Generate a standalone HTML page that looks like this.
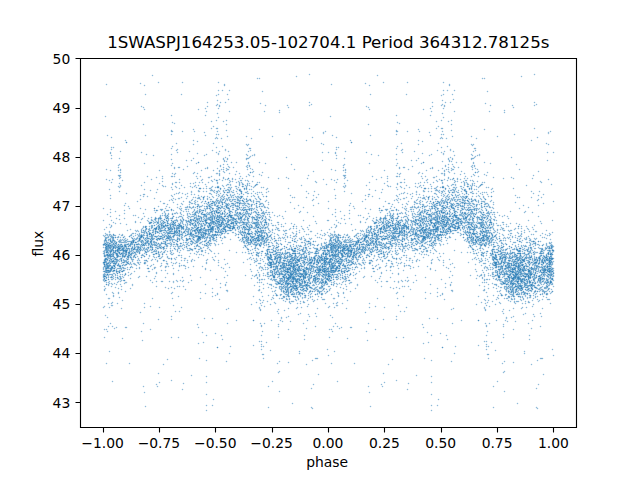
<!DOCTYPE html><html><head><meta charset="utf-8"><title>plot</title><style>html,body{margin:0;padding:0;background:#fff;overflow:hidden}svg{display:block}</style></head><body><svg width="640" height="480" viewBox="0 0 640 480"><rect width="640" height="480" fill="#fff"/><g transform="translate(0.5 0.5)"><g id="pts" stroke="#1f77b4" stroke-opacity="0.5" stroke-width="1.5" stroke-linecap="round" fill="none"><path d="M407 82h0M443 82h0M449 85h0M447 90h0M442 100h0M450 102h0M441 105h0M443 108h0M430 115h0M419 131h0M550 131h0M429 132h0M441 134h0M443 134h0M476 138h0M422 141h0M351 142h0M336 147h0M335 153h0M378 155h0M454 155h0M477 155h0M474 157h0M511 157h0M418 158h0M452 159h0M449 160h0M442 161h0M490 163h0M412 166h0M343 167h0M519 169h0M384 170h0M487 172h0M418 173h0M444 173h0M344 175h0M474 175h0M486 175h0M465 176h0M448 177h0M493 177h0M439 179h0M460 179h0M441 180h0M442 180h0M404 182h0M418 183h0M467 183h0M472 183h0M397 184h0M430 184h0M452 184h0M551 184h0M366 185h0M387 185h0M464 185h0M470 185h0M437 186h0M460 186h0M436 187h0M442 187h0M488 187h0M404 188h0M424 188h0M434 188h0M455 189h0M471 189h0M491 189h0M439 190h0M448 190h0M454 190h0M464 190h0M444 191h0M466 191h0M449 192h0M458 192h0M403 193h0M441 193h0M445 193h0M472 193h0M476 193h0M416 194h0M448 194h0M482 194h0M372 196h0M397 196h0M412 196h0M437 196h0M460 196h0M467 196h0M491 196h0M434 197h0M464 197h0M466 197h0M517 197h0M335 198h0M379 198h0M403 198h0M404 198h0M428 198h0M432 199h0M435 199h0M445 199h0M462 199h0M397 200h0M450 200h0M472 200h0M408 201h0M422 201h0M430 201h0M442 201h0M471 201h0M472 201h0M478 201h0M426 202h0M433 202h0M438 202h0M439 202h0M441 202h0M443 202h0M389 203h0M431 203h0M433 203h0M439 203h0M439 203h0M444 203h0M460 203h0M481 203h0M485 203h0M422 204h0M440 204h0M447 204h0M447 204h0M454 204h0M474 204h0M493 204h0M433 205h0M462 205h0M476 205h0M481 205h0M538 205h0M391 206h0M412 206h0M418 206h0M422 206h0M442 206h0M455 206h0M462 206h0M486 206h0M436 207h0M444 207h0M451 207h0M466 207h0M404 208h0M429 208h0M434 208h0M441 208h0M445 208h0M454 208h0M461 208h0M474 208h0M475 208h0M519 208h0M385 209h0M387 209h0M405 209h0M410 209h0M463 209h0M463 209h0M467 209h0M469 209h0M469 209h0M478 209h0M391 210h0M406 210h0M422 210h0M428 210h0M446 210h0M418 211h0M422 211h0M455 211h0M472 211h0M401 212h0M441 212h0M443 212h0M457 212h0M464 212h0M480 212h0M497 212h0M390 213h0M420 213h0M431 213h0M431 213h0M437 213h0M447 213h0M461 213h0M465 213h0M471 213h0M474 213h0M481 213h0M488 213h0M397 214h0M427 214h0M429 214h0M432 214h0M446 214h0M463 214h0M469 214h0M471 214h0M483 214h0M358 215h0M431 215h0M485 215h0M487 215h0M504 215h0M393 216h0M416 216h0M442 216h0M449 216h0M449 216h0M474 216h0M477 216h0M502 216h0M380 217h0M407 217h0M412 217h0M415 217h0M437 217h0M444 217h0M445 217h0M446 217h0M456 217h0M456 217h0M466 217h0M466 217h0M476 217h0M479 217h0M481 217h0M483 217h0M483 217h0M484 217h0M373 218h0M385 218h0M396 218h0M397 218h0M423 218h0M424 218h0M426 218h0M426 218h0M433 218h0M459 218h0M473 218h0M482 218h0M487 218h0M508 218h0M385 219h0M417 219h0M418 219h0M423 219h0M423 219h0M424 219h0M428 219h0M439 219h0M443 219h0M447 219h0M449 219h0M453 219h0M328 220h0M372 220h0M376 220h0M401 220h0M415 220h0M422 220h0M435 220h0M441 220h0M444 220h0M450 220h0M458 220h0M458 220h0M481 220h0M388 221h0M397 221h0M398 221h0M398 221h0M402 221h0M425 221h0M438 221h0M443 221h0M467 221h0M473 221h0M490 221h0M380 222h0M392 222h0M398 222h0M415 222h0M431 222h0M438 222h0M442 222h0M448 222h0M452 222h0M457 222h0M460 222h0M469 222h0M490 222h0M345 223h0M386 223h0M393 223h0M403 223h0M403 223h0M412 223h0M416 223h0M418 223h0M424 223h0M431 223h0M446 223h0M456 223h0M480 223h0M493 223h0M510 223h0M541 223h0M381 224h0M384 224h0M385 224h0M390 224h0M429 224h0M434 224h0M443 224h0M453 224h0M467 224h0M489 224h0M336 225h0M390 225h0M391 225h0M392 225h0M393 225h0M400 225h0M402 225h0M418 225h0M432 225h0M435 225h0M441 225h0M442 225h0M443 225h0M446 225h0M451 225h0M462 225h0M474 225h0M481 225h0M481 225h0M368 226h0M370 226h0M374 226h0M376 226h0M377 226h0M391 226h0M408 226h0M445 226h0M445 226h0M446 226h0M452 226h0M455 226h0M469 226h0M472 226h0M492 226h0M521 226h0M384 227h0M392 227h0M396 227h0M442 227h0M452 227h0M455 227h0M458 227h0M459 227h0M464 227h0M479 227h0M483 227h0M490 227h0M491 227h0M492 227h0M371 228h0M376 228h0M380 228h0M384 228h0M417 228h0M421 228h0M422 228h0M422 228h0M435 228h0M436 228h0M438 228h0M447 228h0M449 228h0M457 228h0M458 228h0M479 228h0M411 229h0M412 229h0M413 229h0M421 229h0M424 229h0M425 229h0M437 229h0M442 229h0M446 229h0M471 229h0M472 229h0M482 229h0M497 229h0M352 230h0M366 230h0M375 230h0M378 230h0M385 230h0M390 230h0M396 230h0M396 230h0M419 230h0M428 230h0M431 230h0M431 230h0M443 230h0M455 230h0M488 230h0M490 230h0M504 230h0M504 230h0M361 231h0M373 231h0M380 231h0M391 231h0M394 231h0M399 231h0M404 231h0M413 231h0M425 231h0M440 231h0M440 231h0M440 231h0M441 231h0M445 231h0M446 231h0M448 231h0M473 231h0M483 231h0M368 232h0M374 232h0M383 232h0M406 232h0M408 232h0M415 232h0M421 232h0M425 232h0M425 232h0M427 232h0M430 232h0M437 232h0M444 232h0M458 232h0M467 232h0M489 232h0M524 232h0M357 233h0M394 233h0M398 233h0M413 233h0M430 233h0M431 233h0M447 233h0M475 233h0M479 233h0M487 233h0M491 233h0M521 233h0M338 234h0M347 234h0M368 234h0M368 234h0M378 234h0M387 234h0M389 234h0M415 234h0M423 234h0M430 234h0M437 234h0M438 234h0M440 234h0M444 234h0M469 234h0M471 234h0M474 234h0M484 234h0M496 234h0M502 234h0M339 235h0M366 235h0M369 235h0M372 235h0M402 235h0M411 235h0M421 235h0M440 235h0M441 235h0M469 235h0M482 235h0M335 236h0M367 236h0M375 236h0M376 236h0M379 236h0M381 236h0M404 236h0M422 236h0M423 236h0M432 236h0M436 236h0M472 236h0M478 236h0M483 236h0M486 236h0M489 236h0M512 236h0M331 237h0M332 237h0M345 237h0M362 237h0M368 237h0M377 237h0M396 237h0M423 237h0M423 237h0M424 237h0M425 237h0M438 237h0M441 237h0M468 237h0M470 237h0M471 237h0M476 237h0M491 237h0M491 237h0M492 237h0M515 237h0M544 237h0M337 238h0M364 238h0M374 238h0M378 238h0M392 238h0M393 238h0M424 238h0M424 238h0M473 238h0M486 238h0M488 238h0M524 238h0M536 238h0M330 239h0M330 239h0M337 239h0M358 239h0M360 239h0M364 239h0M365 239h0M371 239h0M378 239h0M384 239h0M398 239h0M404 239h0M418 239h0M425 239h0M480 239h0M490 239h0M497 239h0M329 240h0M330 240h0M331 240h0M335 240h0M350 240h0M391 240h0M392 240h0M435 240h0M467 240h0M478 240h0M482 240h0M500 240h0M501 240h0M517 240h0M337 241h0M337 241h0M354 241h0M357 241h0M358 241h0M371 241h0M375 241h0M376 241h0M390 241h0M429 241h0M430 241h0M441 241h0M466 241h0M476 241h0M478 241h0M478 241h0M339 242h0M347 242h0M357 242h0M360 242h0M378 242h0M386 242h0M395 242h0M398 242h0M413 242h0M421 242h0M432 242h0M476 242h0M480 242h0M493 242h0M501 242h0M535 242h0M551 242h0M330 243h0M334 243h0M356 243h0M370 243h0M373 243h0M376 243h0M392 243h0M405 243h0M431 243h0M447 243h0M486 243h0M486 243h0M488 243h0M530 243h0M535 243h0M329 244h0M331 244h0M334 244h0M338 244h0M353 244h0M366 244h0M374 244h0M376 244h0M380 244h0M390 244h0M390 244h0M399 244h0M401 244h0M408 244h0M416 244h0M434 244h0M478 244h0M506 244h0M535 244h0M349 245h0M350 245h0M369 245h0M379 245h0M381 245h0M470 245h0M472 245h0M515 245h0M546 245h0M551 245h0M331 246h0M347 246h0M347 246h0M355 246h0M355 246h0M355 246h0M363 246h0M375 246h0M411 246h0M424 246h0M493 246h0M518 246h0M524 246h0M330 247h0M330 247h0M334 247h0M338 247h0M357 247h0M359 247h0M385 247h0M411 247h0M433 247h0M493 247h0M511 247h0M516 247h0M530 247h0M530 247h0M549 247h0M551 247h0M331 248h0M334 248h0M335 248h0M347 248h0M353 248h0M359 248h0M369 248h0M371 248h0M373 248h0M382 248h0M383 248h0M395 248h0M403 248h0M412 248h0M414 248h0M480 248h0M516 248h0M520 248h0M528 248h0M551 248h0M330 249h0M337 249h0M343 249h0M354 249h0M358 249h0M362 249h0M368 249h0M370 249h0M380 249h0M416 249h0M423 249h0M434 249h0M506 249h0M513 249h0M523 249h0M527 249h0M541 249h0M333 250h0M336 250h0M342 250h0M342 250h0M348 250h0M372 250h0M430 250h0M435 250h0M491 250h0M492 250h0M492 250h0M502 250h0M510 250h0M543 250h0M544 250h0M547 250h0M553 250h0M335 251h0M338 251h0M340 251h0M348 251h0M355 251h0M356 251h0M383 251h0M383 251h0M389 251h0M402 251h0M436 251h0M492 251h0M522 251h0M528 251h0M541 251h0M344 252h0M351 252h0M354 252h0M359 252h0M362 252h0M371 252h0M494 252h0M497 252h0M497 252h0M502 252h0M512 252h0M533 252h0M333 253h0M335 253h0M344 253h0M344 253h0M346 253h0M353 253h0M354 253h0M356 253h0M358 253h0M380 253h0M381 253h0M381 253h0M439 253h0M476 253h0M490 253h0M492 253h0M500 253h0M507 253h0M512 253h0M518 253h0M520 253h0M541 253h0M543 253h0M551 253h0M334 254h0M336 254h0M355 254h0M367 254h0M371 254h0M426 254h0M498 254h0M510 254h0M548 254h0M550 254h0M329 255h0M335 255h0M338 255h0M341 255h0M406 255h0M502 255h0M517 255h0M330 256h0M338 256h0M342 256h0M352 256h0M369 256h0M387 256h0M387 256h0M387 256h0M495 256h0M500 256h0M515 256h0M529 256h0M529 256h0M550 256h0M386 257h0M392 257h0M492 257h0M500 257h0M512 257h0M517 257h0M522 257h0M525 257h0M545 257h0M546 257h0M549 257h0M335 258h0M363 258h0M385 258h0M495 258h0M505 258h0M525 258h0M525 258h0M526 258h0M539 258h0M547 258h0M547 258h0M551 258h0M330 259h0M332 259h0M336 259h0M341 259h0M358 259h0M363 259h0M432 259h0M449 259h0M499 259h0M500 259h0M524 259h0M540 259h0M542 259h0M546 259h0M552 259h0M329 260h0M336 260h0M343 260h0M346 260h0M348 260h0M409 260h0M439 260h0M479 260h0M493 260h0M502 260h0M510 260h0M512 260h0M514 260h0M539 260h0M542 260h0M544 260h0M550 260h0M337 261h0M339 261h0M494 261h0M501 261h0M502 261h0M514 261h0M528 261h0M529 261h0M542 261h0M551 261h0M329 262h0M331 262h0M352 262h0M479 262h0M494 262h0M495 262h0M496 262h0M498 262h0M505 262h0M505 262h0M506 262h0M521 262h0M522 262h0M527 262h0M536 262h0M543 262h0M545 262h0M333 263h0M338 263h0M339 263h0M346 263h0M353 263h0M400 263h0M484 263h0M495 263h0M498 263h0M501 263h0M504 263h0M509 263h0M511 263h0M511 263h0M515 263h0M528 263h0M530 263h0M538 263h0M547 263h0M329 264h0M364 264h0M475 264h0M496 264h0M499 264h0M509 264h0M511 264h0M514 264h0M518 264h0M518 264h0M526 264h0M529 264h0M532 264h0M548 264h0M329 265h0M330 265h0M330 265h0M332 265h0M334 265h0M335 265h0M344 265h0M345 265h0M349 265h0M409 265h0M443 265h0M494 265h0M494 265h0M496 265h0M505 265h0M509 265h0M513 265h0M515 265h0M516 265h0M520 265h0M526 265h0M532 265h0M330 266h0M334 266h0M336 266h0M337 266h0M339 266h0M356 266h0M404 266h0M410 266h0M508 266h0M515 266h0M526 266h0M527 266h0M537 266h0M538 266h0M539 266h0M545 266h0M547 266h0M331 267h0M332 267h0M333 267h0M352 267h0M355 267h0M390 267h0M413 267h0M484 267h0M490 267h0M500 267h0M501 267h0M506 267h0M507 267h0M508 267h0M513 267h0M517 267h0M518 267h0M523 267h0M531 267h0M331 268h0M336 268h0M337 268h0M339 268h0M373 268h0M379 268h0M484 268h0M501 268h0M505 268h0M508 268h0M512 268h0M520 268h0M523 268h0M524 268h0M535 268h0M543 268h0M549 268h0M328 269h0M335 269h0M335 269h0M336 269h0M346 269h0M475 269h0M511 269h0M514 269h0M514 269h0M518 269h0M522 269h0M525 269h0M535 269h0M544 269h0M332 270h0M338 270h0M344 270h0M348 270h0M386 270h0M499 270h0M519 270h0M522 270h0M525 270h0M528 270h0M529 270h0M533 270h0M540 270h0M542 270h0M545 270h0M547 270h0M329 271h0M343 271h0M347 271h0M497 271h0M501 271h0M505 271h0M512 271h0M516 271h0M518 271h0M528 271h0M536 271h0M549 271h0M551 271h0M331 272h0M332 272h0M333 272h0M344 272h0M496 272h0M509 272h0M512 272h0M518 272h0M520 272h0M528 272h0M530 272h0M543 272h0M544 272h0M544 272h0M545 272h0M350 273h0M381 273h0M392 273h0M497 273h0M497 273h0M499 273h0M505 273h0M524 273h0M535 273h0M544 273h0M553 273h0M329 274h0M332 274h0M340 274h0M502 274h0M505 274h0M506 274h0M509 274h0M513 274h0M516 274h0M516 274h0M517 274h0M531 274h0M331 275h0M333 275h0M337 275h0M349 275h0M415 275h0M452 275h0M481 275h0M498 275h0M499 275h0M513 275h0M513 275h0M516 275h0M526 275h0M528 275h0M530 275h0M329 276h0M333 276h0M333 276h0M498 276h0M507 276h0M508 276h0M528 276h0M539 276h0M542 276h0M544 276h0M552 276h0M390 277h0M425 277h0M482 277h0M499 277h0M513 277h0M518 277h0M540 277h0M548 277h0M345 278h0M345 278h0M379 278h0M512 278h0M512 278h0M512 278h0M517 278h0M523 278h0M528 278h0M535 278h0M535 278h0M539 278h0M542 278h0M552 278h0M336 279h0M487 279h0M500 279h0M513 279h0M517 279h0M518 279h0M522 279h0M528 279h0M540 279h0M541 279h0M552 279h0M330 280h0M346 280h0M348 280h0M500 280h0M508 280h0M511 280h0M521 280h0M529 280h0M540 280h0M345 281h0M402 281h0M500 281h0M501 281h0M507 281h0M511 281h0M516 281h0M518 281h0M550 281h0M342 282h0M508 282h0M524 282h0M529 282h0M529 282h0M540 282h0M541 282h0M545 282h0M545 282h0M547 282h0M548 282h0M550 282h0M503 283h0M504 283h0M505 283h0M512 283h0M515 283h0M520 283h0M534 283h0M549 283h0M331 284h0M502 284h0M506 284h0M513 284h0M525 284h0M531 284h0M543 284h0M551 284h0M479 285h0M509 285h0M525 285h0M528 285h0M532 285h0M533 285h0M537 285h0M538 285h0M546 285h0M548 285h0M506 286h0M511 286h0M515 286h0M519 286h0M520 286h0M521 286h0M547 286h0M506 287h0M514 287h0M521 287h0M545 287h0M330 288h0M343 288h0M504 288h0M508 288h0M512 288h0M512 288h0M520 288h0M522 288h0M544 288h0M510 289h0M528 289h0M532 289h0M541 289h0M329 290h0M483 290h0M484 290h0M511 290h0M516 290h0M518 290h0M509 291h0M511 291h0M523 291h0M528 291h0M534 291h0M539 291h0M542 291h0M545 291h0M511 292h0M513 292h0M522 292h0M525 292h0M343 293h0M513 293h0M524 293h0M525 293h0M501 294h0M517 294h0M546 294h0M512 295h0M508 296h0M509 296h0M518 296h0M535 296h0M522 297h0M527 297h0M425 298h0M507 298h0M527 298h0M511 299h0M514 299h0M485 300h0M508 300h0M510 301h0M514 301h0M516 301h0M528 301h0M538 301h0M485 303h0M336 305h0M337 305h0M513 308h0M525 313h0M330 315h0M534 316h0M541 316h0M332 317h0M429 318h0M461 320h0M496 320h0M515 321h0M485 323h0M503 324h0M350 327h0M423 327h0M487 331h0M396 337h0M447 339h0M442 347h0M524 351h0M488 354h0M331 363h0M502 363h0M543 374h0M337 381h0M437 405h0M536 407h0"/><path d="M454 90h0M432 106h0M423 109h0M489 111h0M451 120h0M399 123h0M368 124h0M442 128h0M484 129h0M396 130h0M442 131h0M452 136h0M350 140h0M418 140h0M473 151h0M366 152h0M441 152h0M553 152h0M443 153h0M371 154h0M443 154h0M471 154h0M344 158h0M473 158h0M471 159h0M449 161h0M461 162h0M344 164h0M516 164h0M445 165h0M399 167h0M403 167h0M432 167h0M454 167h0M458 167h0M472 167h0M430 168h0M331 169h0M451 170h0M538 171h0M419 172h0M441 173h0M442 173h0M444 175h0M344 176h0M396 176h0M381 177h0M511 177h0M331 179h0M404 179h0M427 179h0M444 179h0M450 179h0M465 180h0M470 180h0M437 181h0M484 182h0M406 185h0M420 185h0M451 185h0M472 185h0M415 186h0M467 186h0M471 186h0M401 187h0M443 187h0M428 188h0M431 188h0M397 189h0M469 189h0M437 190h0M450 190h0M442 191h0M454 191h0M465 191h0M472 191h0M404 192h0M453 192h0M454 192h0M351 193h0M412 193h0M399 194h0M396 195h0M423 195h0M515 195h0M368 196h0M432 196h0M420 197h0M423 197h0M424 197h0M428 197h0M438 197h0M453 197h0M466 197h0M398 198h0M411 198h0M423 198h0M365 199h0M436 199h0M452 199h0M459 199h0M471 199h0M474 199h0M485 199h0M394 200h0M420 200h0M441 200h0M463 200h0M467 200h0M478 200h0M414 201h0M468 201h0M471 201h0M481 201h0M482 201h0M484 201h0M398 202h0M420 202h0M433 202h0M446 202h0M465 202h0M478 202h0M484 202h0M406 203h0M437 203h0M441 203h0M450 203h0M451 203h0M458 203h0M465 203h0M470 203h0M420 204h0M432 204h0M452 204h0M476 204h0M434 205h0M442 205h0M450 205h0M451 205h0M453 205h0M456 205h0M457 205h0M476 205h0M488 205h0M426 206h0M431 206h0M441 206h0M446 206h0M451 206h0M487 206h0M411 207h0M412 207h0M414 207h0M418 207h0M443 207h0M473 207h0M482 207h0M489 207h0M528 207h0M365 208h0M379 208h0M449 208h0M370 209h0M411 209h0M413 209h0M443 209h0M458 209h0M465 209h0M470 209h0M471 209h0M474 209h0M349 210h0M381 210h0M386 210h0M396 210h0M428 210h0M430 210h0M444 210h0M454 210h0M460 210h0M468 210h0M340 211h0M411 211h0M413 211h0M430 211h0M436 211h0M439 211h0M456 211h0M480 211h0M427 212h0M439 212h0M439 212h0M441 212h0M450 212h0M460 212h0M462 212h0M465 212h0M481 212h0M494 212h0M368 213h0M397 213h0M419 213h0M390 214h0M393 214h0M397 214h0M397 214h0M415 214h0M449 214h0M454 214h0M389 215h0M423 215h0M435 215h0M438 215h0M442 215h0M442 215h0M454 215h0M455 215h0M457 215h0M464 215h0M467 215h0M470 215h0M488 215h0M369 216h0M385 216h0M398 216h0M405 216h0M430 216h0M431 216h0M435 216h0M442 216h0M446 216h0M450 216h0M455 216h0M463 216h0M465 216h0M467 216h0M474 216h0M486 216h0M490 216h0M494 216h0M363 217h0M403 217h0M419 217h0M428 217h0M439 217h0M441 217h0M453 217h0M458 217h0M465 217h0M466 217h0M470 217h0M484 217h0M341 218h0M391 218h0M395 218h0M422 218h0M429 218h0M431 218h0M432 218h0M448 218h0M458 218h0M463 218h0M491 218h0M344 219h0M366 219h0M389 219h0M415 219h0M422 219h0M431 219h0M432 219h0M432 219h0M435 219h0M442 219h0M455 219h0M456 219h0M460 219h0M472 219h0M481 219h0M482 219h0M493 219h0M377 220h0M387 220h0M391 220h0M396 220h0M408 220h0M411 220h0M416 220h0M418 220h0M419 220h0M420 220h0M429 220h0M435 220h0M466 220h0M483 220h0M488 220h0M385 221h0M398 221h0M407 221h0M414 221h0M430 221h0M438 221h0M447 221h0M453 221h0M462 221h0M360 222h0M374 222h0M376 222h0M382 222h0M385 222h0M398 222h0M432 222h0M435 222h0M437 222h0M446 222h0M453 222h0M453 222h0M458 222h0M464 222h0M468 222h0M470 222h0M471 222h0M476 222h0M478 222h0M482 222h0M490 222h0M491 222h0M375 223h0M399 223h0M399 223h0M417 223h0M456 223h0M457 223h0M458 223h0M479 223h0M486 223h0M398 224h0M404 224h0M404 224h0M408 224h0M417 224h0M420 224h0M425 224h0M426 224h0M438 224h0M438 224h0M447 224h0M454 224h0M461 224h0M470 224h0M470 224h0M471 224h0M475 224h0M480 224h0M483 224h0M503 224h0M506 224h0M383 225h0M386 225h0M388 225h0M395 225h0M399 225h0M403 225h0M406 225h0M420 225h0M427 225h0M434 225h0M435 225h0M446 225h0M449 225h0M459 225h0M460 225h0M482 225h0M484 225h0M336 226h0M371 226h0M388 226h0M389 226h0M395 226h0M395 226h0M398 226h0M405 226h0M425 226h0M426 226h0M437 226h0M439 226h0M445 226h0M468 226h0M472 226h0M506 226h0M368 227h0M370 227h0M383 227h0M387 227h0M389 227h0M394 227h0M406 227h0M408 227h0M416 227h0M429 227h0M433 227h0M437 227h0M443 227h0M453 227h0M469 227h0M470 227h0M474 227h0M476 227h0M483 227h0M487 227h0M379 228h0M379 228h0M381 228h0M383 228h0M387 228h0M393 228h0M399 228h0M402 228h0M408 228h0M422 228h0M426 228h0M436 228h0M437 228h0M448 228h0M457 228h0M462 228h0M485 228h0M493 228h0M373 229h0M393 229h0M394 229h0M397 229h0M423 229h0M426 229h0M431 229h0M433 229h0M435 229h0M450 229h0M457 229h0M460 229h0M469 229h0M470 229h0M472 229h0M482 229h0M500 229h0M370 230h0M386 230h0M386 230h0M401 230h0M401 230h0M403 230h0M404 230h0M417 230h0M420 230h0M424 230h0M430 230h0M443 230h0M469 230h0M482 230h0M503 230h0M508 230h0M524 230h0M373 231h0M380 231h0M385 231h0M386 231h0M395 231h0M401 231h0M412 231h0M433 231h0M436 231h0M440 231h0M443 231h0M448 231h0M467 231h0M469 231h0M476 231h0M382 232h0M393 232h0M400 232h0M402 232h0M409 232h0M412 232h0M413 232h0M433 232h0M445 232h0M446 232h0M469 232h0M481 232h0M490 232h0M358 233h0M396 233h0M397 233h0M397 233h0M401 233h0M416 233h0M421 233h0M434 233h0M460 233h0M470 233h0M470 233h0M472 233h0M474 233h0M482 233h0M486 233h0M486 233h0M499 233h0M549 233h0M334 234h0M366 234h0M374 234h0M400 234h0M406 234h0M412 234h0M416 234h0M426 234h0M440 234h0M442 234h0M473 234h0M477 234h0M480 234h0M484 234h0M508 234h0M508 234h0M531 234h0M340 235h0M356 235h0M356 235h0M368 235h0M376 235h0M377 235h0M393 235h0M395 235h0M404 235h0M407 235h0M415 235h0M422 235h0M426 235h0M428 235h0M433 235h0M434 235h0M439 235h0M445 235h0M460 235h0M483 235h0M486 235h0M495 235h0M515 235h0M549 235h0M329 236h0M366 236h0M397 236h0M398 236h0M406 236h0M409 236h0M418 236h0M428 236h0M495 236h0M521 236h0M337 237h0M348 237h0M372 237h0M376 237h0M387 237h0M389 237h0M402 237h0M406 237h0M423 237h0M427 237h0M435 237h0M441 237h0M445 237h0M445 237h0M449 237h0M471 237h0M473 237h0M486 237h0M487 237h0M357 238h0M359 238h0M364 238h0M372 238h0M373 238h0M376 238h0M382 238h0M383 238h0M385 238h0M393 238h0M396 238h0M411 238h0M414 238h0M424 238h0M429 238h0M434 238h0M479 238h0M484 238h0M505 238h0M517 238h0M534 238h0M335 239h0M335 239h0M342 239h0M347 239h0M361 239h0M364 239h0M377 239h0M388 239h0M396 239h0M407 239h0M412 239h0M413 239h0M425 239h0M455 239h0M475 239h0M485 239h0M487 239h0M338 240h0M339 240h0M348 240h0M358 240h0M367 240h0M400 240h0M411 240h0M419 240h0M421 240h0M422 240h0M440 240h0M446 240h0M473 240h0M475 240h0M480 240h0M482 240h0M484 240h0M489 240h0M505 240h0M530 240h0M340 241h0M344 241h0M352 241h0M355 241h0M358 241h0M366 241h0M375 241h0M388 241h0M389 241h0M402 241h0M416 241h0M421 241h0M468 241h0M471 241h0M476 241h0M483 241h0M489 241h0M491 241h0M499 241h0M333 242h0M341 242h0M348 242h0M348 242h0M356 242h0M370 242h0M375 242h0M376 242h0M381 242h0M390 242h0M399 242h0M399 242h0M408 242h0M410 242h0M421 242h0M433 242h0M473 242h0M474 242h0M494 242h0M515 242h0M529 242h0M330 243h0M334 243h0M338 243h0M340 243h0M340 243h0M355 243h0M363 243h0M367 243h0M376 243h0M386 243h0M388 243h0M393 243h0M396 243h0M405 243h0M431 243h0M434 243h0M471 243h0M482 243h0M483 243h0M502 243h0M550 243h0M329 244h0M343 244h0M346 244h0M346 244h0M352 244h0M359 244h0M362 244h0M368 244h0M373 244h0M385 244h0M391 244h0M479 244h0M484 244h0M488 244h0M512 244h0M530 244h0M330 245h0M333 245h0M345 245h0M347 245h0M354 245h0M355 245h0M365 245h0M402 245h0M407 245h0M421 245h0M422 245h0M431 245h0M481 245h0M485 245h0M501 245h0M523 245h0M523 245h0M539 245h0M550 245h0M552 245h0M333 246h0M335 246h0M336 246h0M343 246h0M344 246h0M346 246h0M347 246h0M350 246h0M359 246h0M365 246h0M366 246h0M402 246h0M405 246h0M406 246h0M503 246h0M521 246h0M328 247h0M332 247h0M334 247h0M334 247h0M338 247h0M342 247h0M344 247h0M346 247h0M346 247h0M362 247h0M385 247h0M388 247h0M501 247h0M528 247h0M331 248h0M340 248h0M343 248h0M344 248h0M348 248h0M353 248h0M353 248h0M354 248h0M356 248h0M357 248h0M362 248h0M365 248h0M385 248h0M389 248h0M391 248h0M415 248h0M419 248h0M420 248h0M420 248h0M500 248h0M507 248h0M519 248h0M519 248h0M545 248h0M546 248h0M549 248h0M550 248h0M331 249h0M332 249h0M347 249h0M358 249h0M359 249h0M375 249h0M377 249h0M408 249h0M483 249h0M492 249h0M496 249h0M501 249h0M505 249h0M506 249h0M517 249h0M526 249h0M531 249h0M338 250h0M343 250h0M345 250h0M347 250h0M349 250h0M349 250h0M350 250h0M351 250h0M362 250h0M475 250h0M498 250h0M518 250h0M527 250h0M530 250h0M548 250h0M552 250h0M331 251h0M331 251h0M335 251h0M351 251h0M361 251h0M362 251h0M363 251h0M370 251h0M378 251h0M380 251h0M381 251h0M386 251h0M486 251h0M500 251h0M500 251h0M518 251h0M519 251h0M331 252h0M339 252h0M343 252h0M343 252h0M344 252h0M350 252h0M357 252h0M360 252h0M389 252h0M430 252h0M461 252h0M470 252h0M492 252h0M504 252h0M524 252h0M533 252h0M329 253h0M350 253h0M351 253h0M381 253h0M415 253h0M490 253h0M492 253h0M507 253h0M514 253h0M517 253h0M520 253h0M523 253h0M524 253h0M524 253h0M540 253h0M542 253h0M542 253h0M548 253h0M338 254h0M351 254h0M379 254h0M384 254h0M387 254h0M396 254h0M499 254h0M504 254h0M506 254h0M506 254h0M515 254h0M526 254h0M528 254h0M550 254h0M330 255h0M332 255h0M334 255h0M342 255h0M350 255h0M353 255h0M367 255h0M374 255h0M477 255h0M481 255h0M491 255h0M495 255h0M496 255h0M516 255h0M520 255h0M541 255h0M334 256h0M337 256h0M342 256h0M344 256h0M347 256h0M350 256h0M353 256h0M359 256h0M369 256h0M374 256h0M383 256h0M414 256h0M440 256h0M492 256h0M510 256h0M531 256h0M544 256h0M546 256h0M547 256h0M352 257h0M353 257h0M360 257h0M496 257h0M500 257h0M502 257h0M505 257h0M516 257h0M516 257h0M518 257h0M529 257h0M536 257h0M539 257h0M549 257h0M330 258h0M338 258h0M338 258h0M346 258h0M353 258h0M356 258h0M373 258h0M481 258h0M494 258h0M501 258h0M506 258h0M510 258h0M516 258h0M519 258h0M529 258h0M534 258h0M550 258h0M553 258h0M329 259h0M330 259h0M331 259h0M331 259h0M335 259h0M339 259h0M339 259h0M353 259h0M357 259h0M396 259h0M438 259h0M481 259h0M487 259h0M493 259h0M495 259h0M496 259h0M496 259h0M504 259h0M505 259h0M512 259h0M519 259h0M522 259h0M524 259h0M529 259h0M329 260h0M334 260h0M342 260h0M349 260h0M357 260h0M431 260h0M509 260h0M523 260h0M527 260h0M532 260h0M547 260h0M548 260h0M550 260h0M329 261h0M334 261h0M337 261h0M338 261h0M341 261h0M344 261h0M346 261h0M416 261h0M488 261h0M497 261h0M497 261h0M514 261h0M524 261h0M539 261h0M328 262h0M337 262h0M341 262h0M348 262h0M355 262h0M369 262h0M501 262h0M503 262h0M528 262h0M529 262h0M531 262h0M531 262h0M535 262h0M536 262h0M539 262h0M543 262h0M550 262h0M335 263h0M386 263h0M485 263h0M492 263h0M496 263h0M499 263h0M500 263h0M504 263h0M508 263h0M511 263h0M516 263h0M518 263h0M520 263h0M520 263h0M525 263h0M536 263h0M538 263h0M539 263h0M539 263h0M546 263h0M549 263h0M329 264h0M356 264h0M360 264h0M450 264h0M495 264h0M500 264h0M508 264h0M519 264h0M529 264h0M533 264h0M541 264h0M550 264h0M333 265h0M339 265h0M342 265h0M343 265h0M343 265h0M347 265h0M481 265h0M495 265h0M511 265h0M512 265h0M513 265h0M518 265h0M522 265h0M332 266h0M344 266h0M344 266h0M385 266h0M498 266h0M501 266h0M509 266h0M510 266h0M516 266h0M517 266h0M519 266h0M520 266h0M520 266h0M527 266h0M528 266h0M541 266h0M541 266h0M549 266h0M330 267h0M337 267h0M348 267h0M446 267h0M518 267h0M524 267h0M534 267h0M540 267h0M542 267h0M544 267h0M331 268h0M372 268h0M500 268h0M515 268h0M522 268h0M531 268h0M548 268h0M549 268h0M550 268h0M488 269h0M492 269h0M498 269h0M500 269h0M504 269h0M512 269h0M512 269h0M512 269h0M513 269h0M514 269h0M518 269h0M521 269h0M522 269h0M528 269h0M533 269h0M533 269h0M544 269h0M333 270h0M334 270h0M341 270h0M345 270h0M390 270h0M509 270h0M519 270h0M329 271h0M329 271h0M334 271h0M335 271h0M342 271h0M346 271h0M508 271h0M510 271h0M511 271h0M520 271h0M529 271h0M537 271h0M548 271h0M548 271h0M550 271h0M550 271h0M552 271h0M331 272h0M331 272h0M334 272h0M381 272h0M504 272h0M506 272h0M512 272h0M513 272h0M514 272h0M514 272h0M519 272h0M535 272h0M546 272h0M550 272h0M550 272h0M339 273h0M488 273h0M504 273h0M506 273h0M507 273h0M520 273h0M520 273h0M521 273h0M525 273h0M530 273h0M535 273h0M542 273h0M550 273h0M553 273h0M330 274h0M337 274h0M345 274h0M484 274h0M492 274h0M497 274h0M500 274h0M507 274h0M508 274h0M510 274h0M513 274h0M516 274h0M517 274h0M520 274h0M524 274h0M526 274h0M526 274h0M526 274h0M531 274h0M534 274h0M541 274h0M543 274h0M545 274h0M328 275h0M488 275h0M520 275h0M522 275h0M536 275h0M540 275h0M541 275h0M329 276h0M336 276h0M338 276h0M345 276h0M492 276h0M515 276h0M516 276h0M519 276h0M520 276h0M521 276h0M523 276h0M527 276h0M536 276h0M547 276h0M547 276h0M328 277h0M336 277h0M342 277h0M348 277h0M363 277h0M509 277h0M511 277h0M513 277h0M514 277h0M516 277h0M518 277h0M518 277h0M525 277h0M528 277h0M529 277h0M550 277h0M338 278h0M342 278h0M343 278h0M506 278h0M507 278h0M509 278h0M513 278h0M517 278h0M519 278h0M519 278h0M520 278h0M522 278h0M522 278h0M524 278h0M530 278h0M533 278h0M534 278h0M542 278h0M552 278h0M333 279h0M344 279h0M345 279h0M486 279h0M498 279h0M509 279h0M516 279h0M518 279h0M520 279h0M522 279h0M551 279h0M416 280h0M513 280h0M520 280h0M524 280h0M543 280h0M329 281h0M334 281h0M381 281h0M387 281h0M394 281h0M505 281h0M517 281h0M521 281h0M540 281h0M543 281h0M331 282h0M484 282h0M486 282h0M503 282h0M511 282h0M517 282h0M530 282h0M550 282h0M336 283h0M349 283h0M492 283h0M503 283h0M510 283h0M512 283h0M525 283h0M527 283h0M331 284h0M337 284h0M430 284h0M488 284h0M507 284h0M508 284h0M513 284h0M516 284h0M518 284h0M524 284h0M526 284h0M532 284h0M549 284h0M552 284h0M450 285h0M517 285h0M518 285h0M521 285h0M525 285h0M529 285h0M531 285h0M539 285h0M549 285h0M498 286h0M505 286h0M510 286h0M512 286h0M516 286h0M520 286h0M524 286h0M528 286h0M532 286h0M340 287h0M504 287h0M507 287h0M512 287h0M512 287h0M513 287h0M513 287h0M514 287h0M518 287h0M525 287h0M527 287h0M547 287h0M399 288h0M488 288h0M519 288h0M529 288h0M531 288h0M531 288h0M536 288h0M549 288h0M329 289h0M410 289h0M512 289h0M512 289h0M512 289h0M515 289h0M516 289h0M522 289h0M527 289h0M500 290h0M515 290h0M515 290h0M512 291h0M512 291h0M535 291h0M546 291h0M549 291h0M552 291h0M337 292h0M343 292h0M425 292h0M437 292h0M515 292h0M524 292h0M524 292h0M544 292h0M338 293h0M396 293h0M509 293h0M521 293h0M529 293h0M331 294h0M512 294h0M513 294h0M519 294h0M524 294h0M535 294h0M338 295h0M440 295h0M498 295h0M518 296h0M509 297h0M520 297h0M520 297h0M529 297h0M530 297h0M498 298h0M514 298h0M484 299h0M499 302h0M528 302h0M500 303h0M525 303h0M550 303h0M495 304h0M398 305h0M375 306h0M526 307h0M451 309h0M404 311h0M533 314h0M383 319h0M396 319h0M368 323h0M422 324h0M486 325h0M329 329h0M503 334h0M367 340h0M455 346h0M486 346h0M442 347h0M495 350h0M454 353h0M541 358h0M537 360h0M431 376h0M381 384h0M538 384h0M517 403h0"/><path d="M484 78h0M383 82h0M331 84h0M487 91h0M452 94h0M432 102h0M485 103h0M536 104h0M444 105h0M534 105h0M368 107h0M513 107h0M430 108h0M396 115h0M397 122h0M451 124h0M332 135h0M497 136h0M336 137h0M441 137h0M446 138h0M531 140h0M401 143h0M471 144h0M397 146h0M447 146h0M401 150h0M437 150h0M475 150h0M414 151h0M444 151h0M402 152h0M422 153h0M479 154h0M429 155h0M472 155h0M479 155h0M475 156h0M336 158h0M448 158h0M472 158h0M411 160h0M456 162h0M484 162h0M473 163h0M343 165h0M472 165h0M453 166h0M471 166h0M404 167h0M448 167h0M432 168h0M475 168h0M477 169h0M448 171h0M475 172h0M397 173h0M399 174h0M444 174h0M484 174h0M372 176h0M344 178h0M548 179h0M426 180h0M447 180h0M466 180h0M387 181h0M457 181h0M463 181h0M400 182h0M464 182h0M482 182h0M474 183h0M464 184h0M481 184h0M345 185h0M423 185h0M447 185h0M345 186h0M431 186h0M431 186h0M442 187h0M471 187h0M425 188h0M435 188h0M445 188h0M449 188h0M469 188h0M471 188h0M492 188h0M464 189h0M465 189h0M474 189h0M375 190h0M423 190h0M451 190h0M423 191h0M478 191h0M452 192h0M452 192h0M482 192h0M491 192h0M434 193h0M466 193h0M480 193h0M443 194h0M455 194h0M468 194h0M447 195h0M426 196h0M463 196h0M479 196h0M428 197h0M445 197h0M448 197h0M463 197h0M422 198h0M468 198h0M484 198h0M417 199h0M441 199h0M481 199h0M416 200h0M462 200h0M465 200h0M467 200h0M475 200h0M362 201h0M430 201h0M476 201h0M553 201h0M444 202h0M462 202h0M388 203h0M417 203h0M436 203h0M457 203h0M464 203h0M468 203h0M481 203h0M414 204h0M435 204h0M447 204h0M451 204h0M473 204h0M479 204h0M423 205h0M440 205h0M443 205h0M460 205h0M464 205h0M434 206h0M442 206h0M451 206h0M455 206h0M481 206h0M484 206h0M446 207h0M452 207h0M470 207h0M390 208h0M406 208h0M416 208h0M422 208h0M422 208h0M431 208h0M432 208h0M437 208h0M445 208h0M453 208h0M453 208h0M476 208h0M493 208h0M386 209h0M430 209h0M450 209h0M467 209h0M470 209h0M472 209h0M474 209h0M392 210h0M419 210h0M441 210h0M476 210h0M486 210h0M408 211h0M421 211h0M441 211h0M445 211h0M460 211h0M510 211h0M335 212h0M436 212h0M443 212h0M470 212h0M476 212h0M487 212h0M349 213h0M387 213h0M402 213h0M405 213h0M414 213h0M443 213h0M445 213h0M445 213h0M464 213h0M473 213h0M418 214h0M428 214h0M429 214h0M434 214h0M445 214h0M445 214h0M451 214h0M460 214h0M460 214h0M461 214h0M469 214h0M475 214h0M482 214h0M492 214h0M385 215h0M392 215h0M430 215h0M430 215h0M437 215h0M442 215h0M453 215h0M454 215h0M454 215h0M461 215h0M462 215h0M473 215h0M391 216h0M404 216h0M413 216h0M417 216h0M423 216h0M425 216h0M446 216h0M446 216h0M452 216h0M453 216h0M455 216h0M467 216h0M482 216h0M376 217h0M385 217h0M392 217h0M425 217h0M425 217h0M435 217h0M439 217h0M443 217h0M444 217h0M447 217h0M447 217h0M456 217h0M457 217h0M472 217h0M478 217h0M482 217h0M349 218h0M380 218h0M381 218h0M383 218h0M419 218h0M439 218h0M447 218h0M457 218h0M458 218h0M461 218h0M465 218h0M477 218h0M484 218h0M379 219h0M389 219h0M408 219h0M415 219h0M416 219h0M437 219h0M445 219h0M466 219h0M468 219h0M486 219h0M489 219h0M336 220h0M396 220h0M400 220h0M405 220h0M406 220h0M406 220h0M426 220h0M426 220h0M430 220h0M441 220h0M447 220h0M449 220h0M454 220h0M461 220h0M469 220h0M483 220h0M490 220h0M494 220h0M373 221h0M388 221h0M392 221h0M428 221h0M430 221h0M437 221h0M450 221h0M452 221h0M456 221h0M460 221h0M540 221h0M338 222h0M387 222h0M387 222h0M389 222h0M398 222h0M411 222h0M414 222h0M422 222h0M431 222h0M438 222h0M444 222h0M444 222h0M447 222h0M452 222h0M463 222h0M465 222h0M466 222h0M468 222h0M479 222h0M479 222h0M481 222h0M489 222h0M491 222h0M503 222h0M340 223h0M374 223h0M388 223h0M392 223h0M395 223h0M424 223h0M428 223h0M433 223h0M434 223h0M437 223h0M448 223h0M450 223h0M456 223h0M458 223h0M461 223h0M464 223h0M468 223h0M472 223h0M478 223h0M481 223h0M482 223h0M483 223h0M491 223h0M334 224h0M395 224h0M397 224h0M404 224h0M415 224h0M417 224h0M439 224h0M444 224h0M449 224h0M484 224h0M491 224h0M386 225h0M390 225h0M405 225h0M420 225h0M434 225h0M455 225h0M455 225h0M382 226h0M388 226h0M404 226h0M406 226h0M408 226h0M419 226h0M444 226h0M448 226h0M458 226h0M464 226h0M474 226h0M508 226h0M518 226h0M526 226h0M370 227h0M376 227h0M381 227h0M384 227h0M386 227h0M402 227h0M420 227h0M423 227h0M437 227h0M448 227h0M449 227h0M449 227h0M454 227h0M462 227h0M473 227h0M482 227h0M490 227h0M384 228h0M385 228h0M393 228h0M395 228h0M395 228h0M399 228h0M401 228h0M404 228h0M406 228h0M428 228h0M442 228h0M455 228h0M457 228h0M464 228h0M471 228h0M471 228h0M527 228h0M355 229h0M383 229h0M389 229h0M394 229h0M401 229h0M416 229h0M420 229h0M421 229h0M428 229h0M437 229h0M440 229h0M446 229h0M448 229h0M473 229h0M475 229h0M377 230h0M393 230h0M413 230h0M419 230h0M422 230h0M422 230h0M424 230h0M432 230h0M433 230h0M445 230h0M447 230h0M450 230h0M453 230h0M460 230h0M465 230h0M465 230h0M486 230h0M488 230h0M546 230h0M381 231h0M397 231h0M397 231h0M399 231h0M400 231h0M404 231h0M417 231h0M420 231h0M431 231h0M435 231h0M451 231h0M480 231h0M481 231h0M483 231h0M495 231h0M366 232h0M369 232h0M377 232h0M394 232h0M401 232h0M423 232h0M428 232h0M429 232h0M470 232h0M470 232h0M484 232h0M487 232h0M517 232h0M552 232h0M360 233h0M360 233h0M360 233h0M372 233h0M374 233h0M380 233h0M386 233h0M390 233h0M393 233h0M394 233h0M395 233h0M398 233h0M399 233h0M407 233h0M415 233h0M420 233h0M426 233h0M449 233h0M472 233h0M331 234h0M332 234h0M344 234h0M362 234h0M364 234h0M399 234h0M405 234h0M406 234h0M406 234h0M406 234h0M407 234h0M418 234h0M427 234h0M432 234h0M433 234h0M439 234h0M442 234h0M466 234h0M486 234h0M491 234h0M492 234h0M533 234h0M550 234h0M330 235h0M332 235h0M347 235h0M355 235h0M360 235h0M364 235h0M399 235h0M410 235h0M417 235h0M417 235h0M426 235h0M430 235h0M430 235h0M435 235h0M441 235h0M487 235h0M547 235h0M336 236h0M337 236h0M349 236h0M354 236h0M354 236h0M358 236h0M364 236h0M366 236h0M377 236h0M391 236h0M393 236h0M394 236h0M398 236h0M416 236h0M416 236h0M417 236h0M421 236h0M427 236h0M429 236h0M449 236h0M471 236h0M483 236h0M494 236h0M528 236h0M330 237h0M338 237h0M340 237h0M348 237h0M366 237h0M368 237h0M371 237h0M371 237h0M381 237h0M392 237h0M418 237h0M419 237h0M424 237h0M428 237h0M430 237h0M477 237h0M477 237h0M478 237h0M482 237h0M483 237h0M487 237h0M542 237h0M350 238h0M364 238h0M370 238h0M383 238h0M384 238h0M385 238h0M386 238h0M391 238h0M403 238h0M404 238h0M422 238h0M467 238h0M473 238h0M480 238h0M481 238h0M490 238h0M491 238h0M546 238h0M330 239h0M334 239h0M338 239h0M345 239h0M375 239h0M394 239h0M395 239h0M402 239h0M404 239h0M411 239h0M412 239h0M418 239h0M423 239h0M438 239h0M441 239h0M467 239h0M471 239h0M483 239h0M492 239h0M492 239h0M510 239h0M525 239h0M550 239h0M345 240h0M346 240h0M358 240h0M372 240h0M376 240h0M382 240h0M401 240h0M404 240h0M416 240h0M424 240h0M430 240h0M434 240h0M438 240h0M439 240h0M475 240h0M477 240h0M483 240h0M484 240h0M491 240h0M329 241h0M335 241h0M356 241h0M372 241h0M397 241h0M402 241h0M416 241h0M420 241h0M422 241h0M423 241h0M427 241h0M429 241h0M433 241h0M519 241h0M533 241h0M538 241h0M329 242h0M332 242h0M332 242h0M337 242h0M351 242h0M360 242h0M380 242h0M418 242h0M418 242h0M425 242h0M433 242h0M469 242h0M480 242h0M481 242h0M490 242h0M329 243h0M335 243h0M341 243h0M341 243h0M383 243h0M387 243h0M390 243h0M401 243h0M419 243h0M420 243h0M425 243h0M435 243h0M469 243h0M549 243h0M331 244h0M331 244h0M343 244h0M355 244h0M359 244h0M361 244h0M362 244h0M366 244h0M382 244h0M411 244h0M432 244h0M474 244h0M480 244h0M482 244h0M486 244h0M491 244h0M493 244h0M503 244h0M518 244h0M532 244h0M537 244h0M546 244h0M333 245h0M335 245h0M337 245h0M340 245h0M359 245h0M367 245h0M368 245h0M373 245h0M377 245h0M409 245h0M413 245h0M481 245h0M484 245h0M491 245h0M525 245h0M339 246h0M340 246h0M345 246h0M353 246h0M353 246h0M376 246h0M391 246h0M392 246h0M398 246h0M403 246h0M404 246h0M421 246h0M470 246h0M494 246h0M509 246h0M509 246h0M526 246h0M551 246h0M553 246h0M345 247h0M348 247h0M351 247h0M363 247h0M364 247h0M367 247h0M372 247h0M373 247h0M376 247h0M377 247h0M384 247h0M388 247h0M403 247h0M468 247h0M480 247h0M488 247h0M502 247h0M547 247h0M552 247h0M333 248h0M335 248h0M338 248h0M343 248h0M344 248h0M351 248h0M352 248h0M399 248h0M472 248h0M498 248h0M519 248h0M520 248h0M540 248h0M542 248h0M335 249h0M336 249h0M346 249h0M358 249h0M364 249h0M371 249h0M377 249h0M424 249h0M473 249h0M493 249h0M512 249h0M514 249h0M528 249h0M331 250h0M335 250h0M341 250h0M344 250h0M345 250h0M352 250h0M356 250h0M367 250h0M369 250h0M379 250h0M402 250h0M417 250h0M519 250h0M527 250h0M532 250h0M549 250h0M553 250h0M350 251h0M395 251h0M423 251h0M473 251h0M494 251h0M510 251h0M518 251h0M520 251h0M534 251h0M540 251h0M541 251h0M332 252h0M335 252h0M338 252h0M340 252h0M353 252h0M354 252h0M364 252h0M377 252h0M383 252h0M422 252h0M484 252h0M496 252h0M501 252h0M505 252h0M510 252h0M513 252h0M535 252h0M536 252h0M338 253h0M341 253h0M360 253h0M381 253h0M383 253h0M473 253h0M474 253h0M482 253h0M483 253h0M505 253h0M509 253h0M511 253h0M519 253h0M520 253h0M548 253h0M332 254h0M334 254h0M347 254h0M350 254h0M383 254h0M493 254h0M502 254h0M514 254h0M548 254h0M332 255h0M334 255h0M335 255h0M342 255h0M353 255h0M354 255h0M368 255h0M403 255h0M486 255h0M490 255h0M495 255h0M495 255h0M501 255h0M531 255h0M546 255h0M332 256h0M335 256h0M342 256h0M345 256h0M349 256h0M352 256h0M353 256h0M362 256h0M383 256h0M483 256h0M493 256h0M503 256h0M531 256h0M534 256h0M341 257h0M355 257h0M366 257h0M406 257h0M475 257h0M494 257h0M495 257h0M496 257h0M503 257h0M504 257h0M505 257h0M509 257h0M517 257h0M530 257h0M534 257h0M536 257h0M542 257h0M546 257h0M551 257h0M340 258h0M351 258h0M494 258h0M495 258h0M502 258h0M516 258h0M520 258h0M538 258h0M539 258h0M540 258h0M543 258h0M549 258h0M356 259h0M400 259h0M476 259h0M493 259h0M496 259h0M515 259h0M522 259h0M530 259h0M539 259h0M539 259h0M551 259h0M334 260h0M338 260h0M338 260h0M362 260h0M364 260h0M443 260h0M482 260h0M493 260h0M497 260h0M501 260h0M505 260h0M509 260h0M518 260h0M520 260h0M523 260h0M524 260h0M537 260h0M547 260h0M549 260h0M330 261h0M331 261h0M337 261h0M349 261h0M351 261h0M382 261h0M511 261h0M515 261h0M524 261h0M533 261h0M549 261h0M553 261h0M328 262h0M328 262h0M330 262h0M330 262h0M330 262h0M348 262h0M370 262h0M443 262h0M468 262h0M496 262h0M501 262h0M503 262h0M504 262h0M519 262h0M520 262h0M532 262h0M535 262h0M541 262h0M549 262h0M551 262h0M340 263h0M369 263h0M370 263h0M398 263h0M483 263h0M494 263h0M495 263h0M500 263h0M510 263h0M513 263h0M518 263h0M533 263h0M534 263h0M543 263h0M547 263h0M550 263h0M331 264h0M340 264h0M350 264h0M492 264h0M513 264h0M521 264h0M522 264h0M541 264h0M541 264h0M549 264h0M552 264h0M335 265h0M338 265h0M339 265h0M342 265h0M350 265h0M376 265h0M493 265h0M495 265h0M505 265h0M506 265h0M509 265h0M513 265h0M513 265h0M518 265h0M522 265h0M525 265h0M535 265h0M537 265h0M329 266h0M339 266h0M390 266h0M391 266h0M393 266h0M427 266h0M496 266h0M502 266h0M505 266h0M519 266h0M519 266h0M524 266h0M538 266h0M336 267h0M340 267h0M355 267h0M357 267h0M364 267h0M495 267h0M496 267h0M496 267h0M496 267h0M508 267h0M510 267h0M515 267h0M515 267h0M519 267h0M529 267h0M547 267h0M328 268h0M331 268h0M333 268h0M344 268h0M346 268h0M349 268h0M350 268h0M430 268h0M502 268h0M505 268h0M512 268h0M518 268h0M529 268h0M532 268h0M534 268h0M544 268h0M547 268h0M547 268h0M331 269h0M513 269h0M513 269h0M520 269h0M528 269h0M531 269h0M538 269h0M542 269h0M545 269h0M547 269h0M330 270h0M332 270h0M335 270h0M336 270h0M339 270h0M339 270h0M496 270h0M502 270h0M502 270h0M508 270h0M509 270h0M512 270h0M519 270h0M522 270h0M523 270h0M525 270h0M529 270h0M535 270h0M543 270h0M543 270h0M547 270h0M553 270h0M553 270h0M328 271h0M335 271h0M341 271h0M347 271h0M374 271h0M507 271h0M510 271h0M517 271h0M519 271h0M523 271h0M528 271h0M530 271h0M531 271h0M544 271h0M544 271h0M552 271h0M344 272h0M495 272h0M500 272h0M501 272h0M516 272h0M518 272h0M529 272h0M530 272h0M542 272h0M329 273h0M356 273h0M398 273h0M492 273h0M504 273h0M504 273h0M510 273h0M510 273h0M517 273h0M518 273h0M522 273h0M526 273h0M527 273h0M530 273h0M531 273h0M334 274h0M493 274h0M502 274h0M502 274h0M507 274h0M515 274h0M515 274h0M522 274h0M525 274h0M527 274h0M529 274h0M533 274h0M534 274h0M548 274h0M552 274h0M552 274h0M342 275h0M353 275h0M470 275h0M484 275h0M495 275h0M497 275h0M509 275h0M514 275h0M514 275h0M523 275h0M534 275h0M536 275h0M547 275h0M479 276h0M484 276h0M498 276h0M503 276h0M504 276h0M508 276h0M511 276h0M514 276h0M515 276h0M518 276h0M526 276h0M529 276h0M539 276h0M547 276h0M550 276h0M553 276h0M331 277h0M337 277h0M407 277h0M498 277h0M499 277h0M509 277h0M510 277h0M514 277h0M517 277h0M519 277h0M525 277h0M530 277h0M534 277h0M535 277h0M536 277h0M540 277h0M541 277h0M550 277h0M329 278h0M346 278h0M496 278h0M506 278h0M511 278h0M511 278h0M513 278h0M515 278h0M518 278h0M538 278h0M540 278h0M513 279h0M526 279h0M533 279h0M552 279h0M552 279h0M331 280h0M349 280h0M499 280h0M509 280h0M534 280h0M511 281h0M514 281h0M518 281h0M521 281h0M522 281h0M522 281h0M527 281h0M529 281h0M542 281h0M551 281h0M510 282h0M511 282h0M517 282h0M521 282h0M527 282h0M529 282h0M532 282h0M533 282h0M550 282h0M504 283h0M517 283h0M522 283h0M526 283h0M535 283h0M546 283h0M333 284h0M501 284h0M520 284h0M512 285h0M519 285h0M520 285h0M526 285h0M329 286h0M346 286h0M515 286h0M521 286h0M530 286h0M534 286h0M542 286h0M546 286h0M390 287h0M526 287h0M535 287h0M540 287h0M513 288h0M516 288h0M517 288h0M518 288h0M521 288h0M528 288h0M539 288h0M540 288h0M548 288h0M346 289h0M513 289h0M522 289h0M538 289h0M548 289h0M451 290h0M526 290h0M530 290h0M350 291h0M511 291h0M515 291h0M537 291h0M486 292h0M508 292h0M518 292h0M500 293h0M517 293h0M526 293h0M536 293h0M542 293h0M550 293h0M550 293h0M505 294h0M511 294h0M511 294h0M516 294h0M517 294h0M540 294h0M501 295h0M530 295h0M533 295h0M513 296h0M513 296h0M519 296h0M530 296h0M537 296h0M497 297h0M535 297h0M333 298h0M334 298h0M377 298h0M397 298h0M506 298h0M512 299h0M542 299h0M488 300h0M518 301h0M522 303h0M476 304h0M533 304h0M384 307h0M522 307h0M485 310h0M540 313h0M506 317h0M437 318h0M506 318h0M505 320h0M532 320h0M507 321h0M337 326h0M339 328h0M331 329h0M375 329h0M329 337h0M334 351h0M487 354h0M540 358h0M513 362h0M396 380h0M497 381h0M368 386h0M537 408h0M431 410h0"/><path d="M377 75h0M521 76h0M365 83h0M449 84h0M370 94h0M443 94h0M512 105h0M454 111h0M436 128h0M418 129h0M407 131h0M548 132h0M548 133h0M514 134h0M440 138h0M442 138h0M418 144h0M473 144h0M548 144h0M338 147h0M396 148h0M336 155h0M471 158h0M448 159h0M416 160h0M369 163h0M421 163h0M452 164h0M396 165h0M445 166h0M474 166h0M399 168h0M345 169h0M448 169h0M453 169h0M343 170h0M426 170h0M477 172h0M422 173h0M454 173h0M464 173h0M473 174h0M533 175h0M421 176h0M425 176h0M471 176h0M448 178h0M457 178h0M503 178h0M513 178h0M532 178h0M337 179h0M376 179h0M347 180h0M473 181h0M477 181h0M540 181h0M336 182h0M401 182h0M420 182h0M424 182h0M461 182h0M541 182h0M464 183h0M453 184h0M481 184h0M482 184h0M388 186h0M442 186h0M448 186h0M461 186h0M476 186h0M344 187h0M396 187h0M421 187h0M443 187h0M454 187h0M454 187h0M478 187h0M486 187h0M424 188h0M425 188h0M455 188h0M469 188h0M471 188h0M513 188h0M334 189h0M369 189h0M436 189h0M445 189h0M462 189h0M458 190h0M464 190h0M428 191h0M441 191h0M448 191h0M466 191h0M531 191h0M439 192h0M442 192h0M449 192h0M471 192h0M486 192h0M533 193h0M368 194h0M419 194h0M451 194h0M487 194h0M452 195h0M455 195h0M443 196h0M456 196h0M476 196h0M491 196h0M458 197h0M519 197h0M541 197h0M432 198h0M446 198h0M462 198h0M465 198h0M396 199h0M447 199h0M448 199h0M463 199h0M475 199h0M447 200h0M454 200h0M464 200h0M467 200h0M491 200h0M537 200h0M385 201h0M460 201h0M415 202h0M433 202h0M447 202h0M449 202h0M461 202h0M463 202h0M469 202h0M350 203h0M436 203h0M443 203h0M453 203h0M466 203h0M467 203h0M469 203h0M472 203h0M481 203h0M486 203h0M452 204h0M452 204h0M458 204h0M459 204h0M485 204h0M488 204h0M349 205h0M436 205h0M439 205h0M445 205h0M445 205h0M460 205h0M470 205h0M405 206h0M422 206h0M434 206h0M460 206h0M463 206h0M489 206h0M417 207h0M424 207h0M435 207h0M447 207h0M457 207h0M469 207h0M481 207h0M328 208h0M434 208h0M438 208h0M419 209h0M424 209h0M382 210h0M398 210h0M426 210h0M435 210h0M440 210h0M461 210h0M469 210h0M474 210h0M476 210h0M424 211h0M441 211h0M449 211h0M471 211h0M479 211h0M444 212h0M454 212h0M462 212h0M472 212h0M483 212h0M490 212h0M423 213h0M426 213h0M439 213h0M447 213h0M449 213h0M464 213h0M465 213h0M470 213h0M476 213h0M486 213h0M332 214h0M412 214h0M428 214h0M430 214h0M437 214h0M440 214h0M447 214h0M468 214h0M390 215h0M392 215h0M412 215h0M429 215h0M440 215h0M444 215h0M450 215h0M455 215h0M499 215h0M390 216h0M428 216h0M429 216h0M431 216h0M436 216h0M440 216h0M444 216h0M449 216h0M452 216h0M456 216h0M470 216h0M474 216h0M538 216h0M384 217h0M431 217h0M433 217h0M434 217h0M455 217h0M490 217h0M495 217h0M367 218h0M385 218h0M392 218h0M397 218h0M413 218h0M441 218h0M444 218h0M448 218h0M451 218h0M458 218h0M465 218h0M479 218h0M487 218h0M380 219h0M443 219h0M443 219h0M448 219h0M448 219h0M453 219h0M460 219h0M463 219h0M464 219h0M480 219h0M383 220h0M410 220h0M413 220h0M418 220h0M431 220h0M436 220h0M437 220h0M437 220h0M440 220h0M453 220h0M465 220h0M472 220h0M528 220h0M406 221h0M412 221h0M413 221h0M413 221h0M413 221h0M416 221h0M420 221h0M423 221h0M427 221h0M436 221h0M439 221h0M439 221h0M442 221h0M443 221h0M460 221h0M465 221h0M487 221h0M375 222h0M382 222h0M400 222h0M405 222h0M422 222h0M440 222h0M444 222h0M446 222h0M447 222h0M462 222h0M467 222h0M485 222h0M378 223h0M428 223h0M433 223h0M436 223h0M441 223h0M443 223h0M451 223h0M471 223h0M516 223h0M394 224h0M398 224h0M400 224h0M404 224h0M410 224h0M420 224h0M441 224h0M443 224h0M445 224h0M448 224h0M452 224h0M453 224h0M468 224h0M482 224h0M486 224h0M519 224h0M377 225h0M379 225h0M387 225h0M392 225h0M400 225h0M402 225h0M410 225h0M419 225h0M423 225h0M429 225h0M445 225h0M458 225h0M465 225h0M471 225h0M476 225h0M480 225h0M487 225h0M500 225h0M500 225h0M534 225h0M388 226h0M406 226h0M433 226h0M434 226h0M445 226h0M450 226h0M452 226h0M455 226h0M456 226h0M457 226h0M472 226h0M481 226h0M488 226h0M381 227h0M388 227h0M393 227h0M399 227h0M403 227h0M407 227h0M411 227h0M423 227h0M429 227h0M433 227h0M436 227h0M437 227h0M437 227h0M442 227h0M443 227h0M453 227h0M454 227h0M458 227h0M468 227h0M475 227h0M481 227h0M482 227h0M483 227h0M483 227h0M488 227h0M381 228h0M390 228h0M403 228h0M408 228h0M413 228h0M429 228h0M440 228h0M443 228h0M444 228h0M448 228h0M454 228h0M455 228h0M457 228h0M459 228h0M474 228h0M484 228h0M487 228h0M515 228h0M371 229h0M378 229h0M380 229h0M381 229h0M385 229h0M402 229h0M416 229h0M425 229h0M427 229h0M430 229h0M433 229h0M434 229h0M436 229h0M450 229h0M474 229h0M493 229h0M514 229h0M362 230h0M368 230h0M387 230h0M387 230h0M404 230h0M410 230h0M415 230h0M424 230h0M424 230h0M429 230h0M437 230h0M438 230h0M450 230h0M452 230h0M454 230h0M456 230h0M473 230h0M497 230h0M363 231h0M366 231h0M369 231h0M404 231h0M406 231h0M409 231h0M415 231h0M430 231h0M437 231h0M437 231h0M473 231h0M483 231h0M486 231h0M521 231h0M371 232h0M382 232h0M388 232h0M423 232h0M428 232h0M435 232h0M442 232h0M442 232h0M445 232h0M465 232h0M466 232h0M470 232h0M470 232h0M364 233h0M369 233h0M371 233h0M375 233h0M380 233h0M392 233h0M399 233h0M415 233h0M423 233h0M424 233h0M429 233h0M434 233h0M447 233h0M472 233h0M473 233h0M482 233h0M489 233h0M491 233h0M510 233h0M518 233h0M542 233h0M372 234h0M374 234h0M376 234h0M402 234h0M412 234h0M413 234h0M415 234h0M428 234h0M430 234h0M434 234h0M437 234h0M461 234h0M466 234h0M473 234h0M474 234h0M338 235h0M346 235h0M376 235h0M393 235h0M398 235h0M401 235h0M426 235h0M439 235h0M467 235h0M482 235h0M483 235h0M492 235h0M495 235h0M503 235h0M520 235h0M540 235h0M366 236h0M372 236h0M374 236h0M386 236h0M389 236h0M392 236h0M394 236h0M424 236h0M425 236h0M438 236h0M475 236h0M476 236h0M476 236h0M485 236h0M519 236h0M343 237h0M365 237h0M388 237h0M393 237h0M418 237h0M425 237h0M431 237h0M432 237h0M434 237h0M477 237h0M483 237h0M493 237h0M507 237h0M509 237h0M526 237h0M331 238h0M335 238h0M335 238h0M357 238h0M362 238h0M370 238h0M373 238h0M373 238h0M377 238h0M385 238h0M387 238h0M393 238h0M402 238h0M411 238h0M414 238h0M423 238h0M431 238h0M439 238h0M479 238h0M481 238h0M481 238h0M487 238h0M488 238h0M496 238h0M499 238h0M349 239h0M375 239h0M377 239h0M377 239h0M382 239h0M382 239h0M387 239h0M390 239h0M397 239h0M422 239h0M437 239h0M482 239h0M486 239h0M488 239h0M519 239h0M330 240h0M335 240h0M344 240h0M351 240h0M359 240h0M364 240h0M370 240h0M394 240h0M395 240h0M408 240h0M411 240h0M412 240h0M423 240h0M434 240h0M472 240h0M475 240h0M487 240h0M517 240h0M335 241h0M353 241h0M358 241h0M362 241h0M373 241h0M379 241h0M402 241h0M415 241h0M481 241h0M487 241h0M488 241h0M520 241h0M331 242h0M336 242h0M344 242h0M346 242h0M356 242h0M360 242h0M366 242h0M411 242h0M479 242h0M513 242h0M526 242h0M332 243h0M370 243h0M381 243h0M383 243h0M389 243h0M412 243h0M436 243h0M473 243h0M479 243h0M534 243h0M328 244h0M331 244h0M332 244h0M345 244h0M349 244h0M368 244h0M376 244h0M377 244h0M377 244h0M378 244h0M396 244h0M398 244h0M412 244h0M427 244h0M429 244h0M506 244h0M543 244h0M328 245h0M330 245h0M334 245h0M335 245h0M340 245h0M349 245h0M371 245h0M381 245h0M385 245h0M396 245h0M405 245h0M414 245h0M422 245h0M497 245h0M521 245h0M331 246h0M331 246h0M332 246h0M334 246h0M338 246h0M341 246h0M353 246h0M389 246h0M395 246h0M411 246h0M485 246h0M495 246h0M499 246h0M525 246h0M548 246h0M551 246h0M336 247h0M338 247h0M340 247h0M360 247h0M373 247h0M375 247h0M380 247h0M387 247h0M409 247h0M428 247h0M501 247h0M502 247h0M522 247h0M538 247h0M551 247h0M330 248h0M340 248h0M340 248h0M344 248h0M345 248h0M351 248h0M359 248h0M368 248h0M399 248h0M404 248h0M407 248h0M425 248h0M432 248h0M482 248h0M524 248h0M531 248h0M546 248h0M548 248h0M549 248h0M344 249h0M348 249h0M356 249h0M372 249h0M388 249h0M415 249h0M416 249h0M472 249h0M493 249h0M494 249h0M497 249h0M516 249h0M517 249h0M542 249h0M552 249h0M338 250h0M340 250h0M342 250h0M349 250h0M351 250h0M365 250h0M376 250h0M381 250h0M405 250h0M405 250h0M414 250h0M427 250h0M500 250h0M517 250h0M519 250h0M549 250h0M552 250h0M332 251h0M336 251h0M343 251h0M348 251h0M349 251h0M351 251h0M372 251h0M426 251h0M426 251h0M487 251h0M553 251h0M331 252h0M335 252h0M344 252h0M359 252h0M376 252h0M385 252h0M396 252h0M478 252h0M497 252h0M529 252h0M537 252h0M337 253h0M346 253h0M348 253h0M354 253h0M364 253h0M395 253h0M395 253h0M398 253h0M419 253h0M510 253h0M511 253h0M528 253h0M529 253h0M531 253h0M534 253h0M539 253h0M551 253h0M332 254h0M337 254h0M338 254h0M338 254h0M342 254h0M348 254h0M351 254h0M353 254h0M356 254h0M360 254h0M361 254h0M378 254h0M424 254h0M491 254h0M495 254h0M498 254h0M533 254h0M550 254h0M550 254h0M552 254h0M483 255h0M495 255h0M520 255h0M524 255h0M543 255h0M543 255h0M333 256h0M348 256h0M349 256h0M355 256h0M358 256h0M384 256h0M496 256h0M505 256h0M509 256h0M520 256h0M521 256h0M523 256h0M540 256h0M551 256h0M335 257h0M339 257h0M355 257h0M356 257h0M360 257h0M504 257h0M505 257h0M507 257h0M512 257h0M525 257h0M527 257h0M530 257h0M539 257h0M545 257h0M546 257h0M330 258h0M331 258h0M334 258h0M337 258h0M394 258h0M396 258h0M409 258h0M410 258h0M485 258h0M499 258h0M519 258h0M524 258h0M536 258h0M547 258h0M549 258h0M552 258h0M340 259h0M341 259h0M352 259h0M417 259h0M472 259h0M499 259h0M502 259h0M505 259h0M519 259h0M523 259h0M530 259h0M530 259h0M534 259h0M536 259h0M547 259h0M332 260h0M338 260h0M341 260h0M371 260h0M419 260h0M520 260h0M526 260h0M534 260h0M535 260h0M539 260h0M542 260h0M544 260h0M545 260h0M549 260h0M549 260h0M550 260h0M338 261h0M342 261h0M357 261h0M391 261h0M481 261h0M498 261h0M504 261h0M516 261h0M517 261h0M520 261h0M544 261h0M549 261h0M551 261h0M329 262h0M333 262h0M341 262h0M349 262h0M351 262h0M351 262h0M401 262h0M494 262h0M495 262h0M508 262h0M520 262h0M521 262h0M534 262h0M539 262h0M542 262h0M548 262h0M549 262h0M332 263h0M333 263h0M341 263h0M352 263h0M363 263h0M520 263h0M535 263h0M539 263h0M539 263h0M543 263h0M329 264h0M331 264h0M334 264h0M348 264h0M354 264h0M493 264h0M497 264h0M507 264h0M507 264h0M522 264h0M535 264h0M542 264h0M331 265h0M331 265h0M334 265h0M334 265h0M338 265h0M347 265h0M361 265h0M386 265h0M397 265h0M495 265h0M503 265h0M507 265h0M508 265h0M511 265h0M514 265h0M521 265h0M521 265h0M536 265h0M542 265h0M547 265h0M549 265h0M333 266h0M345 266h0M375 266h0M506 266h0M516 266h0M518 266h0M523 266h0M524 266h0M544 266h0M547 266h0M333 267h0M337 267h0M347 267h0M347 267h0M486 267h0M487 267h0M509 267h0M514 267h0M531 267h0M541 267h0M542 267h0M546 267h0M330 268h0M335 268h0M335 268h0M342 268h0M345 268h0M348 268h0M398 268h0M448 268h0M487 268h0M493 268h0M493 268h0M504 268h0M515 268h0M533 268h0M538 268h0M552 268h0M553 268h0M336 269h0M352 269h0M430 269h0M499 269h0M500 269h0M505 269h0M510 269h0M513 269h0M515 269h0M520 269h0M520 269h0M523 269h0M524 269h0M527 269h0M532 269h0M552 269h0M331 270h0M333 270h0M339 270h0M482 270h0M495 270h0M503 270h0M506 270h0M510 270h0M544 270h0M545 270h0M549 270h0M550 270h0M330 271h0M330 271h0M334 271h0M341 271h0M344 271h0M359 271h0M502 271h0M511 271h0M511 271h0M513 271h0M523 271h0M528 271h0M540 271h0M548 271h0M501 272h0M512 272h0M520 272h0M521 272h0M524 272h0M531 272h0M535 272h0M543 272h0M549 272h0M549 272h0M551 272h0M553 272h0M342 273h0M501 273h0M515 273h0M516 273h0M516 273h0M521 273h0M537 273h0M551 273h0M332 274h0M336 274h0M398 274h0M481 274h0M504 274h0M504 274h0M516 274h0M520 274h0M521 274h0M527 274h0M531 274h0M549 274h0M340 275h0M513 275h0M513 275h0M514 275h0M515 275h0M523 275h0M528 275h0M539 275h0M546 275h0M550 275h0M329 276h0M329 276h0M330 276h0M344 276h0M347 276h0M498 276h0M508 276h0M511 276h0M514 276h0M524 276h0M525 276h0M528 276h0M528 276h0M532 276h0M342 277h0M345 277h0M449 277h0M513 277h0M515 277h0M518 277h0M518 277h0M331 278h0M355 278h0M482 278h0M509 278h0M512 278h0M520 278h0M520 278h0M539 278h0M540 278h0M546 278h0M546 278h0M328 279h0M329 279h0M496 279h0M499 279h0M499 279h0M505 279h0M522 279h0M523 279h0M524 279h0M526 279h0M533 279h0M547 279h0M548 279h0M330 280h0M408 280h0M484 280h0M504 280h0M506 280h0M512 280h0M515 280h0M516 280h0M522 280h0M524 280h0M524 280h0M538 280h0M540 280h0M546 280h0M502 281h0M504 281h0M504 281h0M510 281h0M529 281h0M530 281h0M534 281h0M537 281h0M537 281h0M542 281h0M548 281h0M505 282h0M508 282h0M547 282h0M548 282h0M334 283h0M339 283h0M504 283h0M513 283h0M514 283h0M518 283h0M518 283h0M524 283h0M540 283h0M540 283h0M544 283h0M546 283h0M550 283h0M450 284h0M494 284h0M510 284h0M515 284h0M524 284h0M333 285h0M524 285h0M524 285h0M527 285h0M530 285h0M531 285h0M534 285h0M402 286h0M508 286h0M515 286h0M516 286h0M518 286h0M524 286h0M553 286h0M501 287h0M509 287h0M517 287h0M523 287h0M526 287h0M531 287h0M535 287h0M355 288h0M506 288h0M507 288h0M519 288h0M521 288h0M521 288h0M521 288h0M532 288h0M537 288h0M510 289h0M516 289h0M519 289h0M519 289h0M525 289h0M528 289h0M551 289h0M506 290h0M512 290h0M513 290h0M521 290h0M527 290h0M530 290h0M531 290h0M535 290h0M543 290h0M547 290h0M517 291h0M535 291h0M544 291h0M397 292h0M544 292h0M551 292h0M442 293h0M524 293h0M544 293h0M547 293h0M510 294h0M516 294h0M518 294h0M521 294h0M523 294h0M527 294h0M540 294h0M493 295h0M511 296h0M520 296h0M543 296h0M344 297h0M523 298h0M533 298h0M520 299h0M549 299h0M347 300h0M521 300h0M539 300h0M525 301h0M481 302h0M487 302h0M369 303h0M329 306h0M369 307h0M521 308h0M485 309h0M503 309h0M509 310h0M400 311h0M502 311h0M396 316h0M513 316h0M511 317h0M335 323h0M452 323h0M333 326h0M540 326h0M341 327h0M513 329h0M366 331h0M440 333h0M446 335h0M529 339h0M484 341h0M486 341h0M423 343h0M478 345h0M553 355h0M542 358h0M431 360h0M504 371h0M382 386h0M536 388h0M407 389h0M504 391h0M369 392h0M431 405h0"/><path d="M534 74h0M482 78h0M369 85h0M443 90h0M445 102h0M442 104h0M444 106h0M504 110h0M431 111h0M504 112h0M436 121h0M448 121h0M438 126h0M534 128h0M396 131h0M370 135h0M430 135h0M537 137h0M438 143h0M546 143h0M472 145h0M441 147h0M474 148h0M402 149h0M450 149h0M450 150h0M335 152h0M547 152h0M396 154h0M431 154h0M452 158h0M396 159h0M451 161h0M423 162h0M473 162h0M448 164h0M474 165h0M408 169h0M446 169h0M345 170h0M444 170h0M478 171h0M449 172h0M400 173h0M397 176h0M345 177h0M453 178h0M464 178h0M436 180h0M441 180h0M454 180h0M472 180h0M433 182h0M442 182h0M454 182h0M344 183h0M397 183h0M467 184h0M472 184h0M480 185h0M526 185h0M419 186h0M443 186h0M417 187h0M440 187h0M453 187h0M463 187h0M445 188h0M382 189h0M452 189h0M476 189h0M443 190h0M344 191h0M456 191h0M457 192h0M484 192h0M407 193h0M435 193h0M462 193h0M466 193h0M436 194h0M464 194h0M365 195h0M441 195h0M457 195h0M457 195h0M446 196h0M447 196h0M449 196h0M466 196h0M483 196h0M406 197h0M418 197h0M451 198h0M453 198h0M465 198h0M400 199h0M425 199h0M451 199h0M454 199h0M455 199h0M457 199h0M458 199h0M460 199h0M485 199h0M443 200h0M452 200h0M475 200h0M419 201h0M427 201h0M435 201h0M435 201h0M437 201h0M438 201h0M446 201h0M450 201h0M455 201h0M464 201h0M483 201h0M439 202h0M462 202h0M493 202h0M416 203h0M447 203h0M457 203h0M462 203h0M462 203h0M464 203h0M473 203h0M392 204h0M402 204h0M407 204h0M423 204h0M437 205h0M437 205h0M452 205h0M467 205h0M468 205h0M523 205h0M353 206h0M422 206h0M425 206h0M431 206h0M432 206h0M451 206h0M461 206h0M462 206h0M472 206h0M476 206h0M484 206h0M402 207h0M410 207h0M415 207h0M420 207h0M444 207h0M451 207h0M464 207h0M468 207h0M492 207h0M354 208h0M379 208h0M442 208h0M443 208h0M448 208h0M453 208h0M462 208h0M477 208h0M485 208h0M396 209h0M437 209h0M457 209h0M462 209h0M473 209h0M476 209h0M393 210h0M449 210h0M466 210h0M468 210h0M471 210h0M491 210h0M437 211h0M439 211h0M441 211h0M454 211h0M455 211h0M405 212h0M417 212h0M420 212h0M421 212h0M424 212h0M432 212h0M434 212h0M436 212h0M442 212h0M442 212h0M478 212h0M483 212h0M488 212h0M488 212h0M491 212h0M524 212h0M393 213h0M400 213h0M412 213h0M426 213h0M433 213h0M434 213h0M436 213h0M442 213h0M447 213h0M452 213h0M487 213h0M489 213h0M417 214h0M420 214h0M426 214h0M429 214h0M429 214h0M433 214h0M436 214h0M454 214h0M465 214h0M473 214h0M475 214h0M484 214h0M494 214h0M494 214h0M360 215h0M408 215h0M419 215h0M421 215h0M456 215h0M483 215h0M406 216h0M414 216h0M418 216h0M421 216h0M423 216h0M424 216h0M437 216h0M438 216h0M439 216h0M443 216h0M445 216h0M449 216h0M507 216h0M392 217h0M397 217h0M401 217h0M420 217h0M421 217h0M426 217h0M435 217h0M435 217h0M436 217h0M456 217h0M485 217h0M487 217h0M380 218h0M383 218h0M384 218h0M393 218h0M419 218h0M436 218h0M437 218h0M441 218h0M446 218h0M447 218h0M452 218h0M463 218h0M464 218h0M466 218h0M473 218h0M401 219h0M405 219h0M421 219h0M426 219h0M430 219h0M430 219h0M433 219h0M434 219h0M436 219h0M437 219h0M442 219h0M457 219h0M458 219h0M459 219h0M469 219h0M477 219h0M479 219h0M481 219h0M490 219h0M494 219h0M386 220h0M393 220h0M420 220h0M424 220h0M430 220h0M446 220h0M448 220h0M448 220h0M473 220h0M477 220h0M490 220h0M496 220h0M552 220h0M378 221h0M392 221h0M413 221h0M420 221h0M420 221h0M421 221h0M425 221h0M437 221h0M442 221h0M443 221h0M447 221h0M453 221h0M459 221h0M461 221h0M477 221h0M482 221h0M482 221h0M365 222h0M379 222h0M383 222h0M396 222h0M407 222h0M415 222h0M430 222h0M430 222h0M430 222h0M431 222h0M436 222h0M468 222h0M472 222h0M473 222h0M474 222h0M480 222h0M490 222h0M382 223h0M386 223h0M388 223h0M388 223h0M399 223h0M415 223h0M417 223h0M438 223h0M440 223h0M446 223h0M451 223h0M455 223h0M461 223h0M477 223h0M479 223h0M351 224h0M386 224h0M387 224h0M396 224h0M397 224h0M412 224h0M414 224h0M423 224h0M434 224h0M436 224h0M444 224h0M453 224h0M453 224h0M458 224h0M471 224h0M473 224h0M493 224h0M376 225h0M383 225h0M392 225h0M395 225h0M412 225h0M444 225h0M452 225h0M466 225h0M471 225h0M476 225h0M489 225h0M493 225h0M497 225h0M383 226h0M383 226h0M384 226h0M386 226h0M389 226h0M411 226h0M421 226h0M427 226h0M432 226h0M438 226h0M450 226h0M451 226h0M476 226h0M483 226h0M518 226h0M331 227h0M395 227h0M398 227h0M401 227h0M422 227h0M425 227h0M433 227h0M435 227h0M435 227h0M443 227h0M443 227h0M450 227h0M458 227h0M468 227h0M468 227h0M501 227h0M371 228h0M379 228h0M386 228h0M393 228h0M396 228h0M401 228h0M407 228h0M414 228h0M414 228h0M426 228h0M436 228h0M454 228h0M454 228h0M454 228h0M474 228h0M478 228h0M480 228h0M485 228h0M489 228h0M490 228h0M502 228h0M518 228h0M521 228h0M329 229h0M370 229h0M374 229h0M380 229h0M397 229h0M397 229h0M425 229h0M434 229h0M436 229h0M438 229h0M449 229h0M463 229h0M467 229h0M473 229h0M485 229h0M502 229h0M528 229h0M533 229h0M380 230h0M384 230h0M389 230h0M390 230h0M399 230h0M422 230h0M426 230h0M430 230h0M430 230h0M436 230h0M485 230h0M486 230h0M487 230h0M487 230h0M510 230h0M378 231h0M384 231h0M396 231h0M400 231h0M411 231h0M419 231h0M422 231h0M435 231h0M443 231h0M447 231h0M450 231h0M483 231h0M484 231h0M484 231h0M509 231h0M371 232h0M377 232h0M378 232h0M392 232h0M399 232h0M402 232h0M404 232h0M416 232h0M423 232h0M424 232h0M425 232h0M440 232h0M442 232h0M443 232h0M457 232h0M469 232h0M473 232h0M477 232h0M485 232h0M493 232h0M494 232h0M330 233h0M375 233h0M384 233h0M393 233h0M403 233h0M428 233h0M429 233h0M430 233h0M433 233h0M446 233h0M453 233h0M465 233h0M468 233h0M473 233h0M474 233h0M476 233h0M480 233h0M511 233h0M335 234h0M338 234h0M356 234h0M374 234h0M392 234h0M404 234h0M414 234h0M417 234h0M425 234h0M463 234h0M545 234h0M334 235h0M336 235h0M363 235h0M365 235h0M371 235h0M383 235h0M388 235h0M390 235h0M399 235h0M410 235h0M416 235h0M420 235h0M428 235h0M436 235h0M437 235h0M438 235h0M443 235h0M467 235h0M469 235h0M475 235h0M485 235h0M485 235h0M486 235h0M486 235h0M489 235h0M492 235h0M510 235h0M343 236h0M363 236h0M365 236h0M380 236h0M382 236h0M384 236h0M385 236h0M386 236h0M386 236h0M389 236h0M395 236h0M423 236h0M427 236h0M428 236h0M436 236h0M479 236h0M488 236h0M494 236h0M518 236h0M333 237h0M336 237h0M338 237h0M340 237h0M356 237h0M366 237h0M394 237h0M395 237h0M398 237h0M424 237h0M432 237h0M437 237h0M445 237h0M463 237h0M469 237h0M473 237h0M330 238h0M361 238h0M372 238h0M379 238h0M383 238h0M391 238h0M394 238h0M423 238h0M427 238h0M438 238h0M467 238h0M470 238h0M481 238h0M481 238h0M483 238h0M491 238h0M520 238h0M526 238h0M333 239h0M352 239h0M381 239h0M381 239h0M399 239h0M415 239h0M422 239h0M423 239h0M431 239h0M435 239h0M465 239h0M468 239h0M473 239h0M475 239h0M477 239h0M478 239h0M483 239h0M493 239h0M526 239h0M535 239h0M337 240h0M366 240h0M367 240h0M370 240h0M373 240h0M376 240h0M397 240h0M431 240h0M431 240h0M464 240h0M475 240h0M483 240h0M484 240h0M489 240h0M492 240h0M495 240h0M500 240h0M503 240h0M529 240h0M331 241h0M343 241h0M367 241h0M367 241h0M368 241h0M376 241h0M417 241h0M417 241h0M435 241h0M476 241h0M489 241h0M510 241h0M531 241h0M532 241h0M533 241h0M538 241h0M540 241h0M341 242h0M341 242h0M358 242h0M361 242h0M372 242h0M379 242h0M426 242h0M472 242h0M486 242h0M521 242h0M527 242h0M340 243h0M369 243h0M379 243h0M386 243h0M417 243h0M424 243h0M424 243h0M475 243h0M485 243h0M489 243h0M501 243h0M535 243h0M333 244h0M336 244h0M337 244h0M339 244h0M346 244h0M351 244h0M352 244h0M352 244h0M357 244h0M361 244h0M361 244h0M363 244h0M368 244h0M368 244h0M370 244h0M402 244h0M416 244h0M422 244h0M443 244h0M473 244h0M473 244h0M481 244h0M493 244h0M538 244h0M332 245h0M333 245h0M335 245h0M336 245h0M350 245h0M350 245h0M359 245h0M367 245h0M369 245h0M384 245h0M392 245h0M431 245h0M433 245h0M480 245h0M484 245h0M485 245h0M489 245h0M498 245h0M535 245h0M542 245h0M331 246h0M337 246h0M338 246h0M343 246h0M347 246h0M350 246h0M351 246h0M357 246h0M361 246h0M362 246h0M375 246h0M386 246h0M419 246h0M423 246h0M432 246h0M476 246h0M480 246h0M509 246h0M515 246h0M549 246h0M552 246h0M330 247h0M330 247h0M339 247h0M342 247h0M343 247h0M357 247h0M369 247h0M377 247h0M381 247h0M388 247h0M425 247h0M511 247h0M530 247h0M545 247h0M549 247h0M549 247h0M332 248h0M343 248h0M344 248h0M363 248h0M365 248h0M377 248h0M382 248h0M382 248h0M386 248h0M420 248h0M426 248h0M479 248h0M509 248h0M520 248h0M530 248h0M535 248h0M539 248h0M337 249h0M342 249h0M347 249h0M361 249h0M361 249h0M364 249h0M365 249h0M366 249h0M377 249h0M400 249h0M477 249h0M503 249h0M545 249h0M329 250h0M330 250h0M337 250h0M340 250h0M342 250h0M346 250h0M348 250h0M351 250h0M354 250h0M363 250h0M365 250h0M395 250h0M412 250h0M413 250h0M426 250h0M480 250h0M503 250h0M525 250h0M550 250h0M340 251h0M342 251h0M358 251h0M358 251h0M364 251h0M373 251h0M379 251h0M392 251h0M427 251h0M500 251h0M530 251h0M550 251h0M329 252h0M333 252h0M351 252h0M351 252h0M353 252h0M364 252h0M370 252h0M371 252h0M404 252h0M404 252h0M481 252h0M507 252h0M512 252h0M514 252h0M548 252h0M550 252h0M340 253h0M341 253h0M342 253h0M344 253h0M346 253h0M347 253h0M356 253h0M356 253h0M357 253h0M364 253h0M369 253h0M387 253h0M443 253h0M501 253h0M518 253h0M519 253h0M522 253h0M524 253h0M540 253h0M541 253h0M547 253h0M548 253h0M335 254h0M336 254h0M341 254h0M345 254h0M371 254h0M378 254h0M387 254h0M391 254h0M481 254h0M500 254h0M503 254h0M508 254h0M520 254h0M525 254h0M527 254h0M546 254h0M546 254h0M552 254h0M331 255h0M333 255h0M347 255h0M348 255h0M350 255h0M350 255h0M359 255h0M384 255h0M505 255h0M512 255h0M520 255h0M529 255h0M540 255h0M329 256h0M336 256h0M343 256h0M378 256h0M392 256h0M499 256h0M514 256h0M515 256h0M516 256h0M519 256h0M526 256h0M539 256h0M543 256h0M544 256h0M550 256h0M333 257h0M353 257h0M366 257h0M381 257h0M401 257h0M423 257h0M437 257h0M489 257h0M493 257h0M494 257h0M500 257h0M503 257h0M509 257h0M511 257h0M514 257h0M514 257h0M528 257h0M531 257h0M538 257h0M331 258h0M331 258h0M333 258h0M340 258h0M340 258h0M399 258h0M474 258h0M500 258h0M502 258h0M508 258h0M509 258h0M510 258h0M521 258h0M528 258h0M549 258h0M549 258h0M550 258h0M551 258h0M552 258h0M330 259h0M340 259h0M380 259h0M492 259h0M496 259h0M513 259h0M515 259h0M516 259h0M517 259h0M517 259h0M532 259h0M535 259h0M537 259h0M542 259h0M546 259h0M548 259h0M346 260h0M350 260h0M351 260h0M369 260h0M376 260h0M382 260h0M388 260h0M389 260h0M416 260h0M508 260h0M518 260h0M522 260h0M523 260h0M534 260h0M537 260h0M541 260h0M544 260h0M546 260h0M340 261h0M350 261h0M353 261h0M372 261h0M505 261h0M512 261h0M513 261h0M515 261h0M529 261h0M542 261h0M545 261h0M549 261h0M339 262h0M347 262h0M396 262h0M412 262h0M496 262h0M503 262h0M513 262h0M514 262h0M514 262h0M517 262h0M522 262h0M529 262h0M531 262h0M535 262h0M535 262h0M543 262h0M552 262h0M331 263h0M335 263h0M339 263h0M353 263h0M355 263h0M392 263h0M431 263h0M490 263h0M507 263h0M509 263h0M516 263h0M517 263h0M525 263h0M343 264h0M351 264h0M392 264h0M498 264h0M503 264h0M507 264h0M516 264h0M523 264h0M538 264h0M546 264h0M551 264h0M372 265h0M501 265h0M519 265h0M522 265h0M529 265h0M534 265h0M545 265h0M551 265h0M339 266h0M418 266h0M500 266h0M501 266h0M505 266h0M516 266h0M516 266h0M524 266h0M526 266h0M534 266h0M536 266h0M543 266h0M544 266h0M547 266h0M548 266h0M550 266h0M332 267h0M336 267h0M492 267h0M495 267h0M496 267h0M502 267h0M507 267h0M509 267h0M511 267h0M521 267h0M523 267h0M536 267h0M536 267h0M539 267h0M547 267h0M551 267h0M334 268h0M335 268h0M336 268h0M338 268h0M361 268h0M364 268h0M510 268h0M512 268h0M514 268h0M517 268h0M519 268h0M530 268h0M536 268h0M545 268h0M549 268h0M330 269h0M341 269h0M498 269h0M499 269h0M518 269h0M520 269h0M534 269h0M536 269h0M548 269h0M551 269h0M331 270h0M333 270h0M335 270h0M339 270h0M339 270h0M515 270h0M522 270h0M523 270h0M526 270h0M528 270h0M529 270h0M530 270h0M540 270h0M543 270h0M544 270h0M545 270h0M549 270h0M333 271h0M338 271h0M373 271h0M450 271h0M495 271h0M506 271h0M512 271h0M515 271h0M517 271h0M533 271h0M540 271h0M543 271h0M544 271h0M544 271h0M547 271h0M549 271h0M333 272h0M344 272h0M353 272h0M492 272h0M493 272h0M497 272h0M541 272h0M338 273h0M342 273h0M515 273h0M518 273h0M528 273h0M332 274h0M350 274h0M355 274h0M500 274h0M503 274h0M504 274h0M512 274h0M519 274h0M526 274h0M527 274h0M530 274h0M531 274h0M541 274h0M548 274h0M550 274h0M551 274h0M329 275h0M477 275h0M480 275h0M490 275h0M504 275h0M509 275h0M510 275h0M518 275h0M528 275h0M534 275h0M543 275h0M543 275h0M549 275h0M551 275h0M553 275h0M364 276h0M371 276h0M380 276h0M499 276h0M517 276h0M525 276h0M528 276h0M530 276h0M530 276h0M533 276h0M534 276h0M538 276h0M335 277h0M340 277h0M498 277h0M499 277h0M502 277h0M508 277h0M515 277h0M515 277h0M515 277h0M517 277h0M529 277h0M530 277h0M532 277h0M536 277h0M476 278h0M505 278h0M512 278h0M512 278h0M515 278h0M515 278h0M518 278h0M528 278h0M529 278h0M529 278h0M543 278h0M549 278h0M549 278h0M550 278h0M337 279h0M495 279h0M501 279h0M512 279h0M513 279h0M519 279h0M521 279h0M524 279h0M524 279h0M526 279h0M538 279h0M540 279h0M544 279h0M552 279h0M349 280h0M375 280h0M401 280h0M511 280h0M525 280h0M525 280h0M547 280h0M550 280h0M386 281h0M407 281h0M506 281h0M509 281h0M517 281h0M520 281h0M526 281h0M527 281h0M529 281h0M539 281h0M545 281h0M550 281h0M377 282h0M413 282h0M451 282h0M502 282h0M513 282h0M521 282h0M524 282h0M527 282h0M532 282h0M537 282h0M539 282h0M551 282h0M500 283h0M501 283h0M507 283h0M510 283h0M512 283h0M513 283h0M514 283h0M514 283h0M535 283h0M345 284h0M496 284h0M506 284h0M512 284h0M531 284h0M520 285h0M529 285h0M336 286h0M381 286h0M408 286h0M484 286h0M508 286h0M517 286h0M520 286h0M547 286h0M396 287h0M445 287h0M493 287h0M510 287h0M511 287h0M535 287h0M536 287h0M541 287h0M521 288h0M531 288h0M484 289h0M505 289h0M512 289h0M532 289h0M539 289h0M542 289h0M520 290h0M542 290h0M497 291h0M499 291h0M508 291h0M513 291h0M516 291h0M531 291h0M537 291h0M513 292h0M521 292h0M523 292h0M534 292h0M513 293h0M527 293h0M442 294h0M542 294h0M546 294h0M547 294h0M501 295h0M513 295h0M525 295h0M529 295h0M530 295h0M338 296h0M403 296h0M478 296h0M525 296h0M546 297h0M504 298h0M444 299h0M496 299h0M537 299h0M547 299h0M514 302h0M529 302h0M336 303h0M342 303h0M515 303h0M532 306h0M334 307h0M406 307h0M484 307h0M484 308h0M542 308h0M503 313h0M523 314h0M478 320h0M486 335h0M529 335h0M403 337h0M503 337h0M347 338h0M428 342h0M486 344h0M552 349h0M524 353h0M424 358h0M392 359h0M451 361h0M354 363h0M503 372h0M384 382h0M493 386h0M438 399h0M370 406h0"/><path d="M406 94h0M441 95h0M453 99h0M534 102h0M490 105h0M366 106h0M369 109h0M442 113h0M330 116h0M443 117h0M441 120h0M441 128h0M451 130h0M397 131h0M396 134h0M471 136h0M351 142h0M475 148h0M336 149h0M345 151h0M453 151h0M450 157h0M547 160h0M423 162h0M397 163h0M442 168h0M451 168h0M452 169h0M472 169h0M335 170h0M438 170h0M444 171h0M461 171h0M345 172h0M475 172h0M460 174h0M343 175h0M345 175h0M387 176h0M399 176h0M436 176h0M478 176h0M433 177h0M434 177h0M387 178h0M422 178h0M453 178h0M467 178h0M452 179h0M457 179h0M334 180h0M455 181h0M369 182h0M427 182h0M466 182h0M384 183h0M415 183h0M442 183h0M455 184h0M468 184h0M455 185h0M474 185h0M480 185h0M343 186h0M390 186h0M400 186h0M467 186h0M468 186h0M479 186h0M409 187h0M456 187h0M461 188h0M453 189h0M435 190h0M436 190h0M453 190h0M465 190h0M416 191h0M424 191h0M431 191h0M438 191h0M461 191h0M493 191h0M539 191h0M381 192h0M416 192h0M452 192h0M466 192h0M470 192h0M401 193h0M473 193h0M369 194h0M410 194h0M459 194h0M543 194h0M335 195h0M444 195h0M452 195h0M458 195h0M478 195h0M538 195h0M429 196h0M462 196h0M465 196h0M466 196h0M472 196h0M488 196h0M428 197h0M454 197h0M456 197h0M461 197h0M483 197h0M531 197h0M424 198h0M442 198h0M449 198h0M449 198h0M471 198h0M480 198h0M428 199h0M448 199h0M469 199h0M471 199h0M538 199h0M442 200h0M445 200h0M457 200h0M473 200h0M437 201h0M440 201h0M444 201h0M445 201h0M456 201h0M459 201h0M468 201h0M490 201h0M414 202h0M447 202h0M449 202h0M515 202h0M419 203h0M419 203h0M429 203h0M437 203h0M456 203h0M464 203h0M487 203h0M543 203h0M434 204h0M439 204h0M464 204h0M469 204h0M477 204h0M484 204h0M427 205h0M458 205h0M471 205h0M383 206h0M414 206h0M424 206h0M429 206h0M435 206h0M447 206h0M449 206h0M474 206h0M394 207h0M432 207h0M443 207h0M453 207h0M458 207h0M464 207h0M490 207h0M432 208h0M437 208h0M452 208h0M464 208h0M468 208h0M479 208h0M335 209h0M396 209h0M425 209h0M435 209h0M442 209h0M454 209h0M462 209h0M481 209h0M486 209h0M379 210h0M381 210h0M424 210h0M427 210h0M438 210h0M442 210h0M453 210h0M482 210h0M486 210h0M389 211h0M424 211h0M425 211h0M425 211h0M437 211h0M449 211h0M471 211h0M488 211h0M525 211h0M380 212h0M389 212h0M420 212h0M422 212h0M427 212h0M435 212h0M443 212h0M444 212h0M447 212h0M454 212h0M454 212h0M468 212h0M493 212h0M532 212h0M399 213h0M439 213h0M452 213h0M455 213h0M462 213h0M467 213h0M472 213h0M406 214h0M419 214h0M420 214h0M459 214h0M466 214h0M482 214h0M489 214h0M344 215h0M387 215h0M387 215h0M444 215h0M454 215h0M456 215h0M459 215h0M460 215h0M468 215h0M480 215h0M335 216h0M398 216h0M462 216h0M471 216h0M481 216h0M488 216h0M390 217h0M426 217h0M442 217h0M463 217h0M465 217h0M466 217h0M477 217h0M478 217h0M386 218h0M391 218h0M407 218h0M421 218h0M424 218h0M426 218h0M434 218h0M437 218h0M439 218h0M439 218h0M451 218h0M451 218h0M469 218h0M472 218h0M376 219h0M383 219h0M393 219h0M408 219h0M422 219h0M434 219h0M443 219h0M449 219h0M460 219h0M470 219h0M472 219h0M480 219h0M380 220h0M391 220h0M399 220h0M402 220h0M415 220h0M430 220h0M431 220h0M445 220h0M445 220h0M452 220h0M454 220h0M455 220h0M457 220h0M360 221h0M381 221h0M383 221h0M411 221h0M427 221h0M441 221h0M444 221h0M485 221h0M375 222h0M376 222h0M389 222h0M390 222h0M400 222h0M419 222h0M423 222h0M435 222h0M439 222h0M456 222h0M457 222h0M458 222h0M481 222h0M483 222h0M486 222h0M502 222h0M374 223h0M383 223h0M392 223h0M397 223h0M405 223h0M407 223h0M420 223h0M422 223h0M426 223h0M431 223h0M434 223h0M435 223h0M440 223h0M442 223h0M446 223h0M456 223h0M456 223h0M460 223h0M461 223h0M469 223h0M496 223h0M430 224h0M445 224h0M446 224h0M451 224h0M469 224h0M481 224h0M489 224h0M491 224h0M379 225h0M390 225h0M398 225h0M403 225h0M404 225h0M405 225h0M415 225h0M421 225h0M426 225h0M430 225h0M434 225h0M435 225h0M440 225h0M454 225h0M481 225h0M489 225h0M498 225h0M370 226h0M384 226h0M395 226h0M397 226h0M397 226h0M401 226h0M401 226h0M403 226h0M404 226h0M435 226h0M435 226h0M437 226h0M437 226h0M441 226h0M442 226h0M450 226h0M458 226h0M463 226h0M468 226h0M477 226h0M480 226h0M481 226h0M485 226h0M335 227h0M377 227h0M403 227h0M404 227h0M406 227h0M407 227h0M412 227h0M417 227h0M419 227h0M423 227h0M438 227h0M449 227h0M459 227h0M462 227h0M466 227h0M470 227h0M476 227h0M477 227h0M486 227h0M532 227h0M367 228h0M374 228h0M380 228h0M381 228h0M390 228h0M395 228h0M397 228h0M399 228h0M403 228h0M411 228h0M418 228h0M422 228h0M429 228h0M437 228h0M467 228h0M469 228h0M503 228h0M366 229h0M380 229h0M383 229h0M394 229h0M395 229h0M396 229h0M396 229h0M399 229h0M406 229h0M408 229h0M410 229h0M414 229h0M421 229h0M432 229h0M434 229h0M435 229h0M444 229h0M449 229h0M470 229h0M470 229h0M360 230h0M368 230h0M374 230h0M386 230h0M388 230h0M392 230h0M401 230h0M404 230h0M418 230h0M419 230h0M422 230h0M425 230h0M435 230h0M455 230h0M474 230h0M480 230h0M494 230h0M511 230h0M334 231h0M370 231h0M382 231h0M385 231h0M395 231h0M402 231h0M409 231h0M423 231h0M424 231h0M427 231h0M433 231h0M436 231h0M440 231h0M450 231h0M463 231h0M465 231h0M467 231h0M480 231h0M481 231h0M485 231h0M488 231h0M529 231h0M535 231h0M536 231h0M334 232h0M367 232h0M380 232h0M389 232h0M391 232h0M395 232h0M399 232h0M408 232h0M420 232h0M426 232h0M441 232h0M450 232h0M464 232h0M468 232h0M468 232h0M482 232h0M486 232h0M488 232h0M497 232h0M374 233h0M396 233h0M397 233h0M404 233h0M410 233h0M415 233h0M416 233h0M420 233h0M430 233h0M431 233h0M452 233h0M476 233h0M376 234h0M378 234h0M418 234h0M440 234h0M446 234h0M463 234h0M480 234h0M521 234h0M328 235h0M366 235h0M367 235h0M372 235h0M378 235h0M387 235h0M391 235h0M403 235h0M404 235h0M419 235h0M471 235h0M480 235h0M484 235h0M333 236h0M354 236h0M354 236h0M366 236h0M380 236h0M385 236h0M414 236h0M420 236h0M421 236h0M423 236h0M424 236h0M469 236h0M475 236h0M477 236h0M484 236h0M485 236h0M489 236h0M492 236h0M492 236h0M499 236h0M342 237h0M365 237h0M392 237h0M395 237h0M407 237h0M426 237h0M437 237h0M450 237h0M463 237h0M467 237h0M469 237h0M477 237h0M481 237h0M482 237h0M483 237h0M487 237h0M488 237h0M496 237h0M504 237h0M512 237h0M512 237h0M338 238h0M365 238h0M368 238h0M376 238h0M406 238h0M414 238h0M415 238h0M417 238h0M424 238h0M425 238h0M429 238h0M435 238h0M438 238h0M447 238h0M472 238h0M476 238h0M499 238h0M503 238h0M508 238h0M529 238h0M364 239h0M369 239h0M381 239h0M384 239h0M402 239h0M471 239h0M472 239h0M478 239h0M530 239h0M333 240h0M338 240h0M357 240h0M363 240h0M364 240h0M392 240h0M470 240h0M471 240h0M479 240h0M479 240h0M480 240h0M482 240h0M486 240h0M522 240h0M336 241h0M339 241h0M345 241h0M349 241h0M350 241h0M363 241h0M365 241h0M372 241h0M378 241h0M469 241h0M472 241h0M519 241h0M533 241h0M534 241h0M336 242h0M345 242h0M349 242h0M350 242h0M356 242h0M358 242h0M358 242h0M366 242h0M368 242h0M371 242h0M372 242h0M375 242h0M390 242h0M417 242h0M422 242h0M468 242h0M473 242h0M475 242h0M475 242h0M476 242h0M485 242h0M489 242h0M489 242h0M491 242h0M496 242h0M514 242h0M549 242h0M338 243h0M353 243h0M357 243h0M371 243h0M373 243h0M374 243h0M394 243h0M406 243h0M415 243h0M439 243h0M477 243h0M497 243h0M505 243h0M533 243h0M546 243h0M328 244h0M341 244h0M350 244h0M355 244h0M356 244h0M364 244h0M379 244h0M384 244h0M390 244h0M395 244h0M402 244h0M440 244h0M475 244h0M484 244h0M551 244h0M339 245h0M342 245h0M344 245h0M354 245h0M375 245h0M380 245h0M391 245h0M429 245h0M430 245h0M435 245h0M440 245h0M469 245h0M529 245h0M530 245h0M542 245h0M333 246h0M333 246h0M343 246h0M346 246h0M349 246h0M350 246h0M382 246h0M383 246h0M384 246h0M400 246h0M470 246h0M494 246h0M494 246h0M503 246h0M533 246h0M547 246h0M331 247h0M333 247h0M335 247h0M335 247h0M341 247h0M349 247h0M363 247h0M365 247h0M471 247h0M498 247h0M531 247h0M337 248h0M338 248h0M344 248h0M347 248h0M348 248h0M348 248h0M349 248h0M356 248h0M359 248h0M388 248h0M514 248h0M534 248h0M541 248h0M551 248h0M331 249h0M333 249h0M342 249h0M350 249h0M350 249h0M352 249h0M360 249h0M362 249h0M402 249h0M417 249h0M473 249h0M492 249h0M516 249h0M522 249h0M542 249h0M332 250h0M334 250h0M336 250h0M348 250h0M350 250h0M357 250h0M361 250h0M374 250h0M390 250h0M397 250h0M454 250h0M498 250h0M505 250h0M517 250h0M520 250h0M524 250h0M541 250h0M552 250h0M328 251h0M329 251h0M332 251h0M334 251h0M336 251h0M342 251h0M342 251h0M350 251h0M351 251h0M354 251h0M361 251h0M370 251h0M421 251h0M487 251h0M492 251h0M498 251h0M499 251h0M519 251h0M527 251h0M529 251h0M542 251h0M542 251h0M549 251h0M331 252h0M338 252h0M339 252h0M347 252h0M348 252h0M383 252h0M388 252h0M467 252h0M482 252h0M495 252h0M503 252h0M530 252h0M540 252h0M543 252h0M548 252h0M552 252h0M328 253h0M341 253h0M349 253h0M433 253h0M476 253h0M483 253h0M486 253h0M492 253h0M501 253h0M517 253h0M528 253h0M550 253h0M329 254h0M331 254h0M332 254h0M341 254h0M342 254h0M342 254h0M345 254h0M355 254h0M397 254h0M421 254h0M481 254h0M492 254h0M492 254h0M495 254h0M504 254h0M506 254h0M515 254h0M534 254h0M550 254h0M551 254h0M329 255h0M333 255h0M337 255h0M343 255h0M347 255h0M354 255h0M356 255h0M359 255h0M366 255h0M404 255h0M428 255h0M482 255h0M504 255h0M509 255h0M514 255h0M516 255h0M526 255h0M526 255h0M541 255h0M546 255h0M551 255h0M329 256h0M335 256h0M336 256h0M338 256h0M347 256h0M347 256h0M349 256h0M501 256h0M504 256h0M506 256h0M512 256h0M513 256h0M548 256h0M332 257h0M339 257h0M342 257h0M347 257h0M349 257h0M349 257h0M358 257h0M379 257h0M493 257h0M519 257h0M520 257h0M522 257h0M526 257h0M530 257h0M544 257h0M345 258h0M346 258h0M384 258h0M393 258h0M396 258h0M478 258h0M492 258h0M494 258h0M500 258h0M511 258h0M517 258h0M526 258h0M532 258h0M539 258h0M543 258h0M545 258h0M552 258h0M332 259h0M336 259h0M342 259h0M342 259h0M344 259h0M345 259h0M346 259h0M348 259h0M352 259h0M377 259h0M497 259h0M515 259h0M518 259h0M521 259h0M535 259h0M544 259h0M546 259h0M549 259h0M551 259h0M551 259h0M330 260h0M370 260h0M371 260h0M388 260h0M406 260h0M412 260h0M485 260h0M504 260h0M504 260h0M508 260h0M517 260h0M518 260h0M522 260h0M523 260h0M528 260h0M537 260h0M330 261h0M335 261h0M336 261h0M480 261h0M501 261h0M509 261h0M521 261h0M523 261h0M536 261h0M537 261h0M541 261h0M549 261h0M329 262h0M334 262h0M336 262h0M336 262h0M352 262h0M362 262h0M363 262h0M365 262h0M431 262h0M493 262h0M495 262h0M498 262h0M507 262h0M513 262h0M516 262h0M536 262h0M550 262h0M328 263h0M329 263h0M332 263h0M332 263h0M338 263h0M338 263h0M340 263h0M343 263h0M358 263h0M359 263h0M369 263h0M391 263h0M404 263h0M452 263h0M495 263h0M508 263h0M515 263h0M515 263h0M534 263h0M550 263h0M552 263h0M329 264h0M332 264h0M340 264h0M343 264h0M351 264h0M359 264h0M378 264h0M495 264h0M496 264h0M511 264h0M514 264h0M549 264h0M549 264h0M332 265h0M404 265h0M406 265h0M408 265h0M489 265h0M494 265h0M515 265h0M518 265h0M329 266h0M331 266h0M332 266h0M333 266h0M344 266h0M345 266h0M485 266h0M496 266h0M498 266h0M498 266h0M499 266h0M502 266h0M508 266h0M518 266h0M536 266h0M547 266h0M549 266h0M550 266h0M328 267h0M337 267h0M345 267h0M379 267h0M380 267h0M454 267h0M498 267h0M518 267h0M531 267h0M537 267h0M537 267h0M332 268h0M339 268h0M343 268h0M373 268h0M410 268h0M502 268h0M506 268h0M507 268h0M514 268h0M520 268h0M524 268h0M526 268h0M532 268h0M536 268h0M542 268h0M550 268h0M552 268h0M354 269h0M377 269h0M490 269h0M502 269h0M508 269h0M512 269h0M531 269h0M541 269h0M543 269h0M545 269h0M546 269h0M548 269h0M549 269h0M551 269h0M338 270h0M348 270h0M349 270h0M403 270h0M435 270h0M486 270h0M515 270h0M517 270h0M520 270h0M524 270h0M535 270h0M538 270h0M540 270h0M547 270h0M550 270h0M551 270h0M331 271h0M332 271h0M337 271h0M347 271h0M476 271h0M497 271h0M499 271h0M503 271h0M510 271h0M513 271h0M521 271h0M529 271h0M538 271h0M549 271h0M552 271h0M330 272h0M341 272h0M483 272h0M499 272h0M503 272h0M512 272h0M514 272h0M515 272h0M533 272h0M539 272h0M541 272h0M543 272h0M546 272h0M549 272h0M499 273h0M506 273h0M511 273h0M515 273h0M523 273h0M525 273h0M529 273h0M532 273h0M532 273h0M547 273h0M547 273h0M328 274h0M332 274h0M335 274h0M347 274h0M350 274h0M497 274h0M510 274h0M515 274h0M517 274h0M530 274h0M543 274h0M544 274h0M548 274h0M551 274h0M495 275h0M496 275h0M516 275h0M530 275h0M544 275h0M551 275h0M551 275h0M328 276h0M330 276h0M493 276h0M494 276h0M499 276h0M508 276h0M515 276h0M521 276h0M521 276h0M524 276h0M525 276h0M538 276h0M539 276h0M548 276h0M331 277h0M333 277h0M336 277h0M508 277h0M528 277h0M528 277h0M530 277h0M329 278h0M493 278h0M504 278h0M512 278h0M514 278h0M519 278h0M542 278h0M543 278h0M544 278h0M551 278h0M333 279h0M340 279h0M441 279h0M484 279h0M489 279h0M507 279h0M509 279h0M514 279h0M520 279h0M520 279h0M528 279h0M528 279h0M534 279h0M538 279h0M542 279h0M546 279h0M546 279h0M546 279h0M328 280h0M328 280h0M330 280h0M405 280h0M497 280h0M505 280h0M507 280h0M518 280h0M520 280h0M521 280h0M527 280h0M531 280h0M533 280h0M538 280h0M539 280h0M547 280h0M553 280h0M343 281h0M398 281h0M512 281h0M515 281h0M517 281h0M521 281h0M521 281h0M522 281h0M523 281h0M547 281h0M550 281h0M333 282h0M350 282h0M351 282h0M398 282h0M482 282h0M503 282h0M517 282h0M523 282h0M530 282h0M535 282h0M535 282h0M544 282h0M546 282h0M551 282h0M445 283h0M503 283h0M511 283h0M518 283h0M519 283h0M525 283h0M529 283h0M532 283h0M532 283h0M552 283h0M552 283h0M341 284h0M357 284h0M495 284h0M506 284h0M511 284h0M530 284h0M538 284h0M541 284h0M547 284h0M357 285h0M496 285h0M512 285h0M515 285h0M519 285h0M522 285h0M531 285h0M533 285h0M533 285h0M404 286h0M504 286h0M527 286h0M500 287h0M518 287h0M521 287h0M522 287h0M527 287h0M531 287h0M534 287h0M544 287h0M546 287h0M393 288h0M437 288h0M496 288h0M510 288h0M545 288h0M546 288h0M506 289h0M506 289h0M510 289h0M516 289h0M520 289h0M525 289h0M548 289h0M452 290h0M508 290h0M521 290h0M529 290h0M540 290h0M452 291h0M506 291h0M508 291h0M523 291h0M543 291h0M552 291h0M510 292h0M511 292h0M515 292h0M430 293h0M519 293h0M527 293h0M533 293h0M546 293h0M506 294h0M502 295h0M505 295h0M437 296h0M487 296h0M508 296h0M513 296h0M514 296h0M522 296h0M508 297h0M511 298h0M523 299h0M548 299h0M532 300h0M492 301h0M517 301h0M337 302h0M333 303h0M486 305h0M489 306h0M328 307h0M346 308h0M453 308h0M365 312h0M478 320h0M489 323h0M528 323h0M486 326h0M503 326h0M351 327h0M531 328h0M332 331h0M427 332h0M431 335h0M491 342h0M488 346h0M486 349h0M488 358h0M504 361h0M388 364h0M531 364h0M383 373h0M416 375h0M431 382h0M408 383h0M431 394h0M493 407h0"/></g><use href="#pts" transform="translate(-225 0)"/></g><path d="M80.5 427.5V58.5M576.5 427.5V58.5M80.5 427.5H576.5M80.5 58.5H576.5" stroke="#000" stroke-width="1.1111" stroke-linecap="square" fill="none"/>
<path d="M103.5 427.5v5.000M159.5 427.5v5.000M215.5 427.5v5.000M272.5 427.5v5.000M328.5 427.5v5.000M384.5 427.5v5.000M441.5 427.5v5.000M497.5 427.5v5.000M553.5 427.5v5.000M80.5 402.5h-5.000M80.5 353.5h-5.000M80.5 304.5h-5.000M80.5 255.5h-5.000M80.5 206.5h-5.000M80.5 157.5h-5.000M80.5 108.5h-5.000M80.5 58.5h-5.000" stroke="#000" stroke-width="1.1111" fill="none"/>
<g style="font-size:13.889px;font-family:'DejaVu Sans','Liberation Sans',sans-serif" fill="#000"><text x="102.545" y="448.476" text-anchor="middle">−1.00</text><text x="158.909" y="448.476" text-anchor="middle">−0.75</text><text x="215.273" y="448.476" text-anchor="middle">−0.50</text><text x="271.636" y="448.476" text-anchor="middle">−0.25</text><text x="328.000" y="448.476" text-anchor="middle">0.00</text><text x="384.364" y="448.476" text-anchor="middle">0.25</text><text x="440.727" y="448.476" text-anchor="middle">0.50</text><text x="497.091" y="448.476" text-anchor="middle">0.75</text><text x="553.455" y="448.476" text-anchor="middle">1.00</text><text x="70.278" y="407.997" text-anchor="end">43</text><text x="70.278" y="358.217" text-anchor="end">44</text><text x="70.278" y="309.137" text-anchor="end">45</text><text x="70.278" y="260.057" text-anchor="end">46</text><text x="70.278" y="210.977" text-anchor="end">47</text><text x="70.278" y="161.897" text-anchor="end">48</text><text x="70.278" y="112.817" text-anchor="end">49</text><text x="70.278" y="63.737" text-anchor="end">50</text><text x="327.2" y="467.473" text-anchor="middle">phase</text><text x="43.160" y="243.650" text-anchor="middle" transform="rotate(-90 43.160 243.650)">flux</text></g>
<text x="328.3" y="48.3" text-anchor="middle" style="font-size:16.667px;font-family:'DejaVu Sans','Liberation Sans',sans-serif" fill="#000">1SWASPJ164253.05-102704.1 Period 364312.78125s</text></svg></body></html>
